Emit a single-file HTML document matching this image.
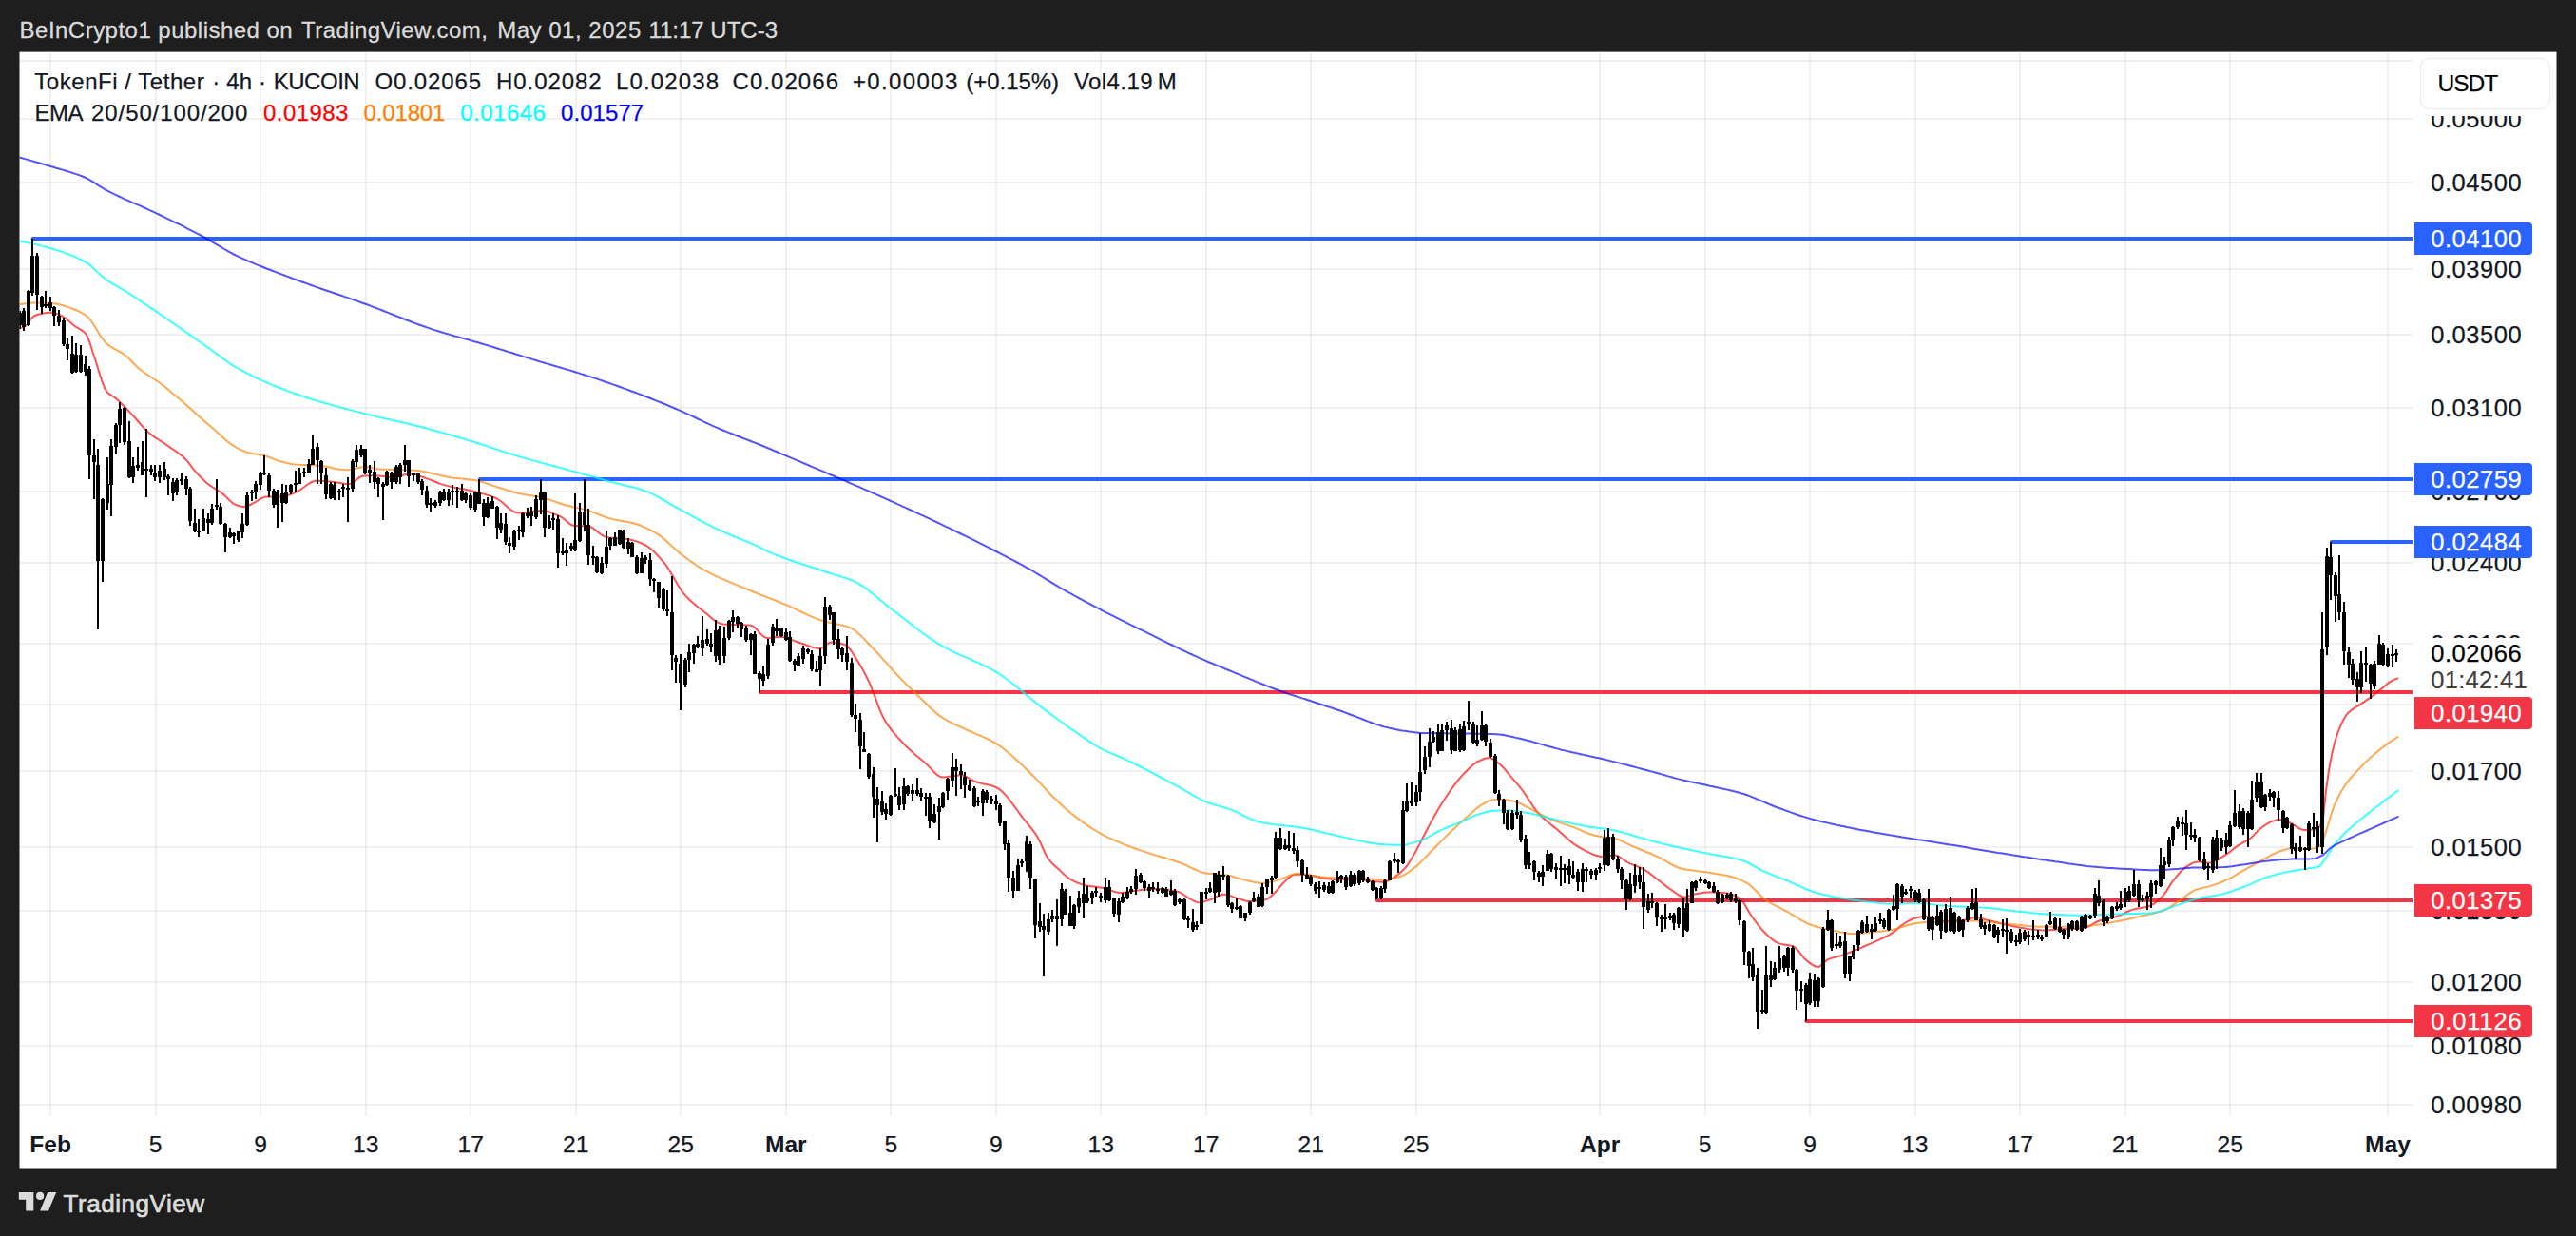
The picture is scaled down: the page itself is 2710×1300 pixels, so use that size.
<!DOCTYPE html>
<html lang="en"><head><meta charset="utf-8"><title>TokenFi / Tether 4h KUCOIN - TradingView</title>
<style>html,body{margin:0;padding:0;background:#1e1e1e;}body{width:2710px;height:1300px;overflow:hidden;}svg{display:block;}text{font-family:"Liberation Sans",sans-serif;}</style>
</head><body>
<svg width="2710" height="1300" viewBox="0 0 2710 1300">
<rect x="0" y="0" width="2710" height="1300" fill="#1e1e1e"/>
<rect id="chart-bg" x="20.5" y="54.6" width="2669" height="1174.9" fill="#ffffff"/>
<g id="grid" fill="rgba(42,46,57,0.065)" shape-rendering="crispEdges">
<rect x="52" y="55" width="2" height="1119"/>
<rect x="163" y="55" width="2" height="1119"/>
<rect x="273" y="55" width="2" height="1119"/>
<rect x="384" y="55" width="2" height="1119"/>
<rect x="494" y="55" width="2" height="1119"/>
<rect x="605" y="55" width="2" height="1119"/>
<rect x="715" y="55" width="2" height="1119"/>
<rect x="826" y="55" width="2" height="1119"/>
<rect x="936" y="55" width="2" height="1119"/>
<rect x="1047" y="55" width="2" height="1119"/>
<rect x="1157" y="55" width="2" height="1119"/>
<rect x="1268" y="55" width="2" height="1119"/>
<rect x="1378" y="55" width="2" height="1119"/>
<rect x="1489" y="55" width="2" height="1119"/>
<rect x="1682" y="55" width="2" height="1119"/>
<rect x="1793" y="55" width="2" height="1119"/>
<rect x="1903" y="55" width="2" height="1119"/>
<rect x="2014" y="55" width="2" height="1119"/>
<rect x="2124" y="55" width="2" height="1119"/>
<rect x="2235" y="55" width="2" height="1119"/>
<rect x="2345" y="55" width="2" height="1119"/>
<rect x="2511" y="55" width="2" height="1119"/>
<rect x="21" y="63" width="2517" height="2"/>
<rect x="21" y="124" width="2517" height="2"/>
<rect x="21" y="191" width="2517" height="2"/>
<rect x="21" y="282" width="2517" height="2"/>
<rect x="21" y="351" width="2517" height="2"/>
<rect x="21" y="428" width="2517" height="2"/>
<rect x="21" y="516" width="2517" height="2"/>
<rect x="21" y="591" width="2517" height="2"/>
<rect x="21" y="676" width="2517" height="2"/>
<rect x="21" y="740" width="2517" height="2"/>
<rect x="21" y="810" width="2517" height="2"/>
<rect x="21" y="890" width="2517" height="2"/>
<rect x="21" y="957" width="2517" height="2"/>
<rect x="21" y="1032" width="2517" height="2"/>
<rect x="21" y="1099" width="2517" height="2"/>
<rect x="21" y="1161" width="2517" height="2"/>
</g>
<g id="rays">
<rect x="34.1" y="249" width="2503.9" height="4" fill="#2962ff" shape-rendering="crispEdges"/><circle cx="34.6" cy="251" r="2" fill="#2962ff"/>
<rect x="504.5" y="502" width="2033.5" height="4" fill="#2962ff" shape-rendering="crispEdges"/><circle cx="505.0" cy="504" r="2" fill="#2962ff"/>
<rect x="2452.5" y="568" width="85.5" height="4" fill="#2962ff" shape-rendering="crispEdges"/><circle cx="2453.0" cy="570" r="2" fill="#2962ff"/>
<rect x="799.3" y="726" width="1738.7" height="4" fill="#f23645" shape-rendering="crispEdges"/><circle cx="799.8" cy="728" r="2" fill="#f23645"/>
<rect x="1448.3" y="945" width="1089.7" height="4" fill="#f23645" shape-rendering="crispEdges"/><circle cx="1448.8" cy="947" r="2" fill="#f23645"/>
<rect x="1899.8" y="1072" width="638.2" height="4" fill="#f23645" shape-rendering="crispEdges"/><circle cx="1900.3" cy="1074" r="2" fill="#f23645"/>
</g>
<clipPath id="pane"><rect x="20.5" y="54.6" width="2517.5" height="1119.4"/></clipPath>
<g id="ema" fill="none" stroke-width="2" stroke-linejoin="round" stroke-linecap="round" clip-path="url(#pane)">
<path d="M20.0,345.0 L23.0,344.5 L26.0,343.3 L29.0,341.0 L32.0,336.1 L35.0,332.8 L38.0,331.5 L41.0,330.5 L44.0,329.9 L47.0,329.3 L50.0,328.9 L53.0,328.6 L56.0,328.8 L59.0,329.6 L62.0,330.9 L65.0,332.4 L68.0,334.1 L71.0,336.4 L74.0,339.1 L77.0,341.7 L80.0,343.9 L83.0,345.6 L86.0,347.4 L89.0,349.7 L92.0,353.8 L95.0,362.0 L98.0,371.8 L101.0,380.8 L104.0,390.5 L107.0,400.1 L110.0,408.1 L113.0,412.7 L116.0,415.1 L119.0,417.0 L122.0,419.1 L125.0,421.8 L128.0,424.7 L131.0,427.7 L134.0,430.9 L137.0,434.1 L140.0,437.3 L143.0,440.5 L146.0,444.0 L149.0,447.5 L152.0,450.8 L155.0,453.8 L158.0,456.3 L161.0,458.6 L164.0,460.6 L167.0,462.5 L170.0,464.4 L173.0,466.4 L176.0,468.5 L179.0,470.6 L182.0,472.6 L185.0,474.6 L188.0,476.8 L191.0,479.1 L194.0,481.7 L197.0,484.9 L200.0,488.9 L203.0,492.9 L206.0,496.4 L209.0,499.7 L212.0,502.8 L215.0,505.7 L218.0,508.4 L221.0,510.7 L224.0,512.7 L227.0,514.6 L230.0,516.4 L233.0,518.5 L236.0,520.9 L239.0,523.8 L242.0,526.8 L245.0,529.3 L248.0,531.0 L251.0,532.0 L254.0,532.7 L257.0,533.0 L260.0,532.3 L263.0,531.0 L266.0,529.4 L269.0,527.9 L272.0,526.0 L275.0,524.1 L278.0,522.8 L281.0,522.6 L284.0,522.6 L287.0,522.6 L290.0,522.6 L293.0,522.6 L296.0,522.5 L299.0,522.0 L302.0,521.2 L305.0,520.2 L308.0,519.0 L311.0,517.8 L314.0,516.4 L317.0,514.5 L320.0,512.3 L323.0,510.0 L326.0,508.0 L329.0,506.5 L332.0,505.7 L335.0,505.6 L338.0,505.7 L341.0,506.0 L344.0,506.2 L347.0,506.5 L350.0,506.8 L353.0,507.2 L356.0,507.7 L359.0,508.3 L362.0,508.8 L365.0,509.1 L368.0,509.1 L371.0,507.8 L374.0,505.4 L377.0,502.9 L380.0,501.1 L383.0,500.6 L386.0,500.4 L389.0,500.3 L392.0,500.2 L395.0,500.2 L398.0,500.4 L401.0,500.7 L404.0,501.1 L407.0,501.5 L410.0,501.8 L413.0,502.0 L416.0,501.9 L419.0,501.4 L422.0,500.5 L425.0,499.5 L428.0,498.7 L431.0,498.3 L434.0,498.5 L437.0,499.1 L440.0,500.0 L443.0,501.2 L446.0,502.3 L449.0,503.4 L452.0,504.4 L455.0,505.6 L458.0,506.8 L461.0,508.0 L464.0,509.1 L467.0,510.1 L470.0,510.9 L473.0,511.6 L476.0,512.3 L479.0,512.9 L482.0,513.4 L485.0,514.0 L488.0,514.6 L491.0,515.2 L494.0,515.8 L497.0,516.5 L500.0,517.2 L503.0,518.0 L506.0,518.8 L509.0,519.6 L512.0,520.5 L515.0,521.4 L518.0,522.5 L521.0,523.6 L524.0,525.2 L527.0,527.3 L530.0,529.8 L533.0,532.5 L536.0,535.1 L539.0,537.3 L542.0,538.8 L545.0,539.6 L548.0,539.5 L551.0,539.3 L554.0,538.9 L557.0,538.5 L560.0,538.0 L563.0,537.6 L566.0,537.3 L569.0,537.1 L572.0,537.2 L575.0,537.7 L578.0,538.5 L581.0,539.6 L584.0,540.9 L587.0,542.2 L590.0,543.5 L593.0,545.6 L596.0,548.3 L599.0,550.8 L602.0,552.6 L605.0,553.1 L608.0,553.1 L611.0,553.2 L614.0,553.3 L617.0,553.3 L620.0,553.7 L623.0,555.0 L626.0,557.1 L629.0,559.6 L632.0,562.0 L635.0,563.9 L638.0,565.0 L641.0,565.5 L644.0,565.8 L647.0,566.1 L650.0,566.3 L653.0,566.5 L656.0,566.7 L659.0,567.1 L662.0,567.5 L665.0,568.1 L668.0,568.9 L671.0,569.9 L674.0,571.1 L677.0,572.5 L680.0,574.0 L683.0,576.0 L686.0,578.4 L689.0,581.3 L692.0,584.4 L695.0,587.7 L698.0,591.1 L701.0,594.9 L704.0,599.5 L707.0,604.5 L710.0,609.8 L713.0,615.0 L716.0,619.8 L719.0,624.0 L722.0,627.4 L725.0,630.5 L728.0,633.2 L731.0,635.8 L734.0,638.3 L737.0,640.6 L740.0,642.9 L743.0,645.3 L746.0,647.8 L749.0,650.4 L752.0,652.7 L755.0,654.6 L758.0,655.9 L761.0,656.5 L764.0,656.7 L767.0,656.9 L770.0,657.0 L773.0,657.0 L776.0,657.1 L779.0,657.2 L782.0,657.3 L785.0,657.4 L788.0,657.6 L791.0,658.0 L794.0,659.9 L797.0,663.0 L800.0,666.5 L803.0,669.4 L806.0,670.9 L809.0,670.9 L812.0,670.7 L815.0,670.3 L818.0,670.0 L821.0,669.8 L824.0,670.0 L827.0,670.7 L830.0,671.7 L833.0,672.9 L836.0,674.2 L839.0,675.3 L842.0,676.3 L845.0,677.3 L848.0,678.4 L851.0,679.5 L854.0,680.5 L857.0,681.3 L860.0,681.8 L863.0,682.0 L866.0,680.7 L869.0,678.5 L872.0,676.3 L875.0,675.4 L878.0,675.6 L881.0,676.0 L884.0,676.7 L887.0,677.5 L890.0,678.6 L893.0,681.2 L896.0,685.3 L899.0,690.1 L902.0,694.9 L905.0,699.7 L908.0,705.0 L911.0,710.7 L914.0,716.7 L917.0,723.8 L920.0,731.7 L923.0,739.8 L926.0,747.6 L929.0,754.3 L932.0,759.5 L935.0,763.9 L938.0,768.0 L941.0,771.7 L944.0,775.1 L947.0,778.3 L950.0,781.5 L953.0,784.6 L956.0,787.5 L959.0,790.2 L962.0,792.9 L965.0,795.4 L968.0,798.0 L971.0,800.5 L974.0,803.0 L977.0,805.9 L980.0,809.2 L983.0,812.4 L986.0,815.1 L989.0,816.9 L992.0,817.4 L995.0,817.2 L998.0,816.8 L1001.0,816.4 L1004.0,816.0 L1007.0,815.6 L1010.0,815.4 L1013.0,815.7 L1016.0,816.7 L1019.0,818.3 L1022.0,820.0 L1025.0,821.6 L1028.0,822.8 L1031.0,823.6 L1034.0,824.3 L1037.0,824.9 L1040.0,825.5 L1043.0,826.3 L1046.0,827.2 L1049.0,828.6 L1052.0,830.6 L1055.0,833.2 L1058.0,836.4 L1061.0,839.9 L1064.0,843.8 L1067.0,847.9 L1070.0,852.0 L1073.0,856.1 L1076.0,860.2 L1079.0,863.9 L1082.0,867.5 L1085.0,871.2 L1088.0,875.1 L1091.0,879.5 L1094.0,885.2 L1097.0,891.9 L1100.0,898.5 L1103.0,903.7 L1106.0,907.2 L1109.0,910.1 L1112.0,912.8 L1115.0,915.5 L1118.0,918.4 L1121.0,921.0 L1124.0,923.4 L1127.0,925.4 L1130.0,926.9 L1133.0,928.3 L1136.0,929.4 L1139.0,930.4 L1142.0,931.2 L1145.0,931.8 L1148.0,932.2 L1151.0,932.6 L1154.0,933.0 L1157.0,933.4 L1160.0,933.8 L1163.0,934.5 L1166.0,935.5 L1169.0,936.6 L1172.0,937.8 L1175.0,938.6 L1178.0,939.0 L1181.0,938.9 L1184.0,938.5 L1187.0,938.0 L1190.0,937.4 L1193.0,936.9 L1196.0,936.5 L1199.0,936.2 L1202.0,935.8 L1205.0,935.5 L1208.0,935.2 L1211.0,935.0 L1214.0,934.9 L1217.0,934.9 L1220.0,935.1 L1223.0,935.3 L1226.0,935.6 L1229.0,936.0 L1232.0,936.5 L1235.0,937.0 L1238.0,937.6 L1241.0,938.5 L1244.0,940.2 L1247.0,942.3 L1250.0,944.3 L1253.0,946.0 L1256.0,947.7 L1259.0,948.9 L1262.0,949.2 L1265.0,948.7 L1268.0,947.9 L1271.0,946.9 L1274.0,946.0 L1277.0,944.7 L1280.0,943.1 L1283.0,941.7 L1286.0,940.8 L1289.0,940.8 L1292.0,941.4 L1295.0,942.4 L1298.0,943.6 L1301.0,944.7 L1304.0,945.6 L1307.0,946.5 L1310.0,947.4 L1313.0,947.9 L1316.0,948.0 L1319.0,947.9 L1322.0,947.6 L1325.0,947.3 L1328.0,946.9 L1331.0,946.4 L1334.0,945.1 L1337.0,942.8 L1340.0,939.9 L1343.0,937.0 L1346.0,933.3 L1349.0,929.8 L1352.0,926.9 L1355.0,924.1 L1358.0,921.5 L1361.0,919.9 L1364.0,919.6 L1367.0,919.7 L1370.0,919.9 L1373.0,920.1 L1376.0,920.4 L1379.0,920.7 L1382.0,921.2 L1385.0,922.0 L1388.0,922.9 L1391.0,923.6 L1394.0,924.0 L1397.0,924.3 L1400.0,924.6 L1403.0,924.9 L1406.0,925.0 L1409.0,925.1 L1412.0,925.0 L1415.0,924.9 L1418.0,924.7 L1421.0,924.6 L1424.0,924.5 L1427.0,924.6 L1430.0,924.9 L1433.0,925.3 L1436.0,925.8 L1439.0,926.3 L1442.0,926.7 L1445.0,927.0 L1448.0,927.3 L1451.0,927.5 L1454.0,927.7 L1457.0,927.6 L1460.0,926.5 L1463.0,924.8 L1466.0,923.0 L1469.0,921.1 L1472.0,918.9 L1475.0,916.3 L1478.0,913.3 L1481.0,909.4 L1484.0,904.7 L1487.0,899.7 L1490.0,894.4 L1493.0,888.6 L1496.0,882.7 L1499.0,877.0 L1502.0,871.2 L1505.0,865.4 L1508.0,859.9 L1511.0,854.7 L1514.0,849.7 L1517.0,844.8 L1520.0,840.2 L1523.0,835.7 L1526.0,831.4 L1529.0,827.2 L1532.0,823.2 L1535.0,819.4 L1538.0,815.9 L1541.0,812.7 L1544.0,809.7 L1547.0,806.8 L1550.0,804.1 L1553.0,802.0 L1556.0,800.4 L1559.0,799.0 L1562.0,797.8 L1565.0,797.2 L1568.0,797.3 L1571.0,798.7 L1574.0,800.8 L1577.0,803.1 L1580.0,805.7 L1583.0,808.9 L1586.0,812.6 L1589.0,816.2 L1592.0,819.6 L1595.0,823.1 L1598.0,826.7 L1601.0,830.5 L1604.0,834.5 L1607.0,839.1 L1610.0,843.7 L1613.0,848.3 L1616.0,852.4 L1619.0,855.9 L1622.0,859.0 L1625.0,861.7 L1628.0,864.3 L1631.0,866.7 L1634.0,869.1 L1637.0,871.6 L1640.0,874.1 L1643.0,876.7 L1646.0,879.4 L1649.0,882.1 L1652.0,884.7 L1655.0,887.1 L1658.0,889.2 L1661.0,891.1 L1664.0,892.7 L1667.0,894.3 L1670.0,895.9 L1673.0,897.4 L1676.0,898.7 L1679.0,899.8 L1682.0,900.5 L1685.0,901.0 L1688.0,900.9 L1691.0,900.5 L1694.0,900.0 L1697.0,899.6 L1700.0,899.7 L1703.0,900.9 L1706.0,902.8 L1709.0,905.0 L1712.0,906.9 L1715.0,908.4 L1718.0,909.6 L1721.0,910.7 L1724.0,911.9 L1727.0,913.2 L1730.0,914.9 L1733.0,916.9 L1736.0,919.0 L1739.0,921.3 L1742.0,923.7 L1745.0,925.9 L1748.0,928.2 L1751.0,930.6 L1754.0,933.0 L1757.0,935.2 L1760.0,937.2 L1763.0,939.4 L1766.0,941.5 L1769.0,943.0 L1772.0,943.4 L1775.0,942.9 L1778.0,942.0 L1781.0,940.9 L1784.0,940.2 L1787.0,939.7 L1790.0,939.2 L1793.0,938.8 L1796.0,938.5 L1799.0,938.4 L1802.0,938.4 L1805.0,938.6 L1808.0,938.7 L1811.0,938.9 L1814.0,939.2 L1817.0,939.6 L1820.0,940.2 L1823.0,941.2 L1826.0,942.5 L1829.0,944.2 L1832.0,946.4 L1835.0,950.5 L1838.0,955.7 L1841.0,961.0 L1844.0,965.3 L1847.0,969.4 L1850.0,973.3 L1853.0,977.1 L1856.0,980.3 L1859.0,983.2 L1862.0,985.9 L1865.0,988.5 L1868.0,990.6 L1871.0,992.1 L1874.0,992.9 L1877.0,993.4 L1880.0,993.9 L1883.0,994.4 L1886.0,995.1 L1889.0,997.0 L1892.0,1000.2 L1895.0,1004.1 L1898.0,1007.9 L1901.0,1010.6 L1904.0,1012.9 L1907.0,1015.0 L1910.0,1016.5 L1913.0,1017.1 L1916.0,1015.5 L1919.0,1012.4 L1922.0,1009.6 L1925.0,1008.4 L1928.0,1007.4 L1931.0,1006.7 L1934.0,1005.9 L1937.0,1005.1 L1940.0,1004.0 L1943.0,1002.9 L1946.0,1001.7 L1949.0,1000.5 L1952.0,999.3 L1955.0,998.1 L1958.0,996.8 L1961.0,995.5 L1964.0,994.2 L1967.0,992.9 L1970.0,991.6 L1973.0,990.2 L1976.0,988.8 L1979.0,987.4 L1982.0,986.0 L1985.0,984.6 L1988.0,982.9 L1991.0,981.1 L1994.0,978.9 L1997.0,976.2 L2000.0,973.6 L2003.0,971.5 L2006.0,969.7 L2009.0,968.0 L2012.0,966.5 L2015.0,965.6 L2018.0,964.9 L2021.0,964.3 L2024.0,963.9 L2027.0,963.7 L2030.0,964.2 L2033.0,965.5 L2036.0,966.9 L2039.0,968.1 L2042.0,968.5 L2045.0,968.5 L2048.0,968.5 L2051.0,968.4 L2054.0,968.4 L2057.0,968.3 L2060.0,968.2 L2063.0,968.1 L2066.0,967.8 L2069.0,967.0 L2072.0,966.2 L2075.0,965.4 L2078.0,965.1 L2081.0,965.4 L2084.0,966.0 L2087.0,966.8 L2090.0,967.6 L2093.0,968.3 L2096.0,969.0 L2099.0,969.8 L2102.0,970.5 L2105.0,971.3 L2108.0,972.0 L2111.0,972.7 L2114.0,973.3 L2117.0,974.0 L2120.0,974.6 L2123.0,975.2 L2126.0,975.8 L2129.0,976.3 L2132.0,976.8 L2135.0,977.2 L2138.0,977.5 L2141.0,977.8 L2144.0,978.1 L2147.0,978.3 L2150.0,978.4 L2153.0,978.3 L2156.0,978.2 L2159.0,977.9 L2162.0,977.7 L2165.0,977.5 L2168.0,977.2 L2171.0,977.1 L2174.0,977.0 L2177.0,976.9 L2180.0,976.8 L2183.0,976.6 L2186.0,976.5 L2189.0,976.3 L2192.0,976.1 L2195.0,975.6 L2198.0,974.2 L2201.0,972.4 L2204.0,970.5 L2207.0,969.0 L2210.0,968.0 L2213.0,967.2 L2216.0,966.5 L2219.0,965.9 L2222.0,965.3 L2225.0,964.5 L2228.0,963.6 L2231.0,962.4 L2234.0,961.0 L2237.0,959.5 L2240.0,958.1 L2243.0,956.9 L2246.0,956.1 L2249.0,955.5 L2252.0,955.0 L2255.0,954.5 L2258.0,953.9 L2261.0,953.0 L2264.0,951.7 L2267.0,949.8 L2270.0,947.4 L2273.0,944.6 L2276.0,941.6 L2279.0,937.4 L2282.0,932.5 L2285.0,927.9 L2288.0,924.1 L2291.0,920.3 L2294.0,916.8 L2297.0,913.9 L2300.0,911.6 L2303.0,909.8 L2306.0,908.1 L2309.0,906.9 L2312.0,906.4 L2315.0,906.6 L2318.0,907.0 L2321.0,907.4 L2324.0,907.6 L2327.0,907.2 L2330.0,906.0 L2333.0,904.3 L2336.0,902.4 L2339.0,900.6 L2342.0,898.7 L2345.0,896.6 L2348.0,894.2 L2351.0,891.9 L2354.0,889.7 L2357.0,887.8 L2360.0,886.1 L2363.0,884.5 L2366.0,882.7 L2369.0,880.5 L2372.0,877.4 L2375.0,874.1 L2378.0,871.4 L2381.0,869.2 L2384.0,867.1 L2387.0,865.3 L2390.0,863.9 L2393.0,863.0 L2396.0,862.3 L2399.0,861.9 L2402.0,862.3 L2405.0,863.4 L2408.0,865.0 L2411.0,866.5 L2414.0,868.1 L2417.0,870.1 L2420.0,871.9 L2423.0,872.9 L2426.0,872.9 L2429.0,872.7 L2432.0,872.5 L2435.0,872.2 L2438.0,871.2 L2441.0,868.0 L2444.0,860.4 L2447.0,831.5 L2450.0,810.4 L2453.0,793.9 L2456.0,781.3 L2459.0,771.7 L2462.0,764.0 L2465.0,757.8 L2468.0,752.7 L2471.0,749.2 L2474.0,746.7 L2477.0,744.7 L2480.0,742.8 L2483.0,740.8 L2486.0,738.8 L2489.0,736.9 L2492.0,734.9 L2495.0,732.8 L2498.0,730.4 L2501.0,728.0 L2504.0,725.6 L2507.0,723.1 L2510.0,720.5 L2513.0,718.1 L2516.0,716.2 L2519.0,714.7 L2522.0,713.6 L2522.4,713.5" stroke="#ff0000" stroke-opacity="0.68"/>
<path d="M20.0,320.3 L23.0,319.8 L26.0,319.4 L29.0,319.0 L32.0,318.7 L35.0,318.5 L38.0,318.4 L41.0,318.4 L44.0,318.5 L47.0,318.6 L50.0,318.8 L53.0,319.0 L56.0,319.3 L59.0,319.6 L62.0,320.1 L65.0,320.9 L68.0,321.8 L71.0,322.9 L74.0,323.9 L77.0,325.0 L80.0,326.2 L83.0,327.5 L86.0,329.0 L89.0,330.8 L92.0,333.0 L95.0,336.4 L98.0,340.7 L101.0,345.6 L104.0,350.5 L107.0,355.2 L110.0,359.2 L113.0,362.1 L116.0,364.3 L119.0,366.1 L122.0,367.8 L125.0,369.4 L128.0,371.2 L131.0,373.2 L134.0,375.6 L137.0,378.5 L140.0,381.7 L143.0,384.7 L146.0,387.4 L149.0,389.8 L152.0,392.0 L155.0,394.1 L158.0,396.0 L161.0,398.0 L164.0,400.0 L167.0,402.0 L170.0,404.2 L173.0,406.5 L176.0,408.9 L179.0,411.4 L182.0,413.9 L185.0,416.4 L188.0,419.0 L191.0,421.6 L194.0,424.3 L197.0,427.0 L200.0,429.6 L203.0,432.3 L206.0,435.0 L209.0,437.7 L212.0,440.3 L215.0,442.9 L218.0,445.5 L221.0,448.1 L224.0,450.6 L227.0,453.3 L230.0,456.1 L233.0,458.8 L236.0,461.5 L239.0,464.0 L242.0,466.4 L245.0,468.5 L248.0,470.3 L251.0,471.9 L254.0,473.3 L257.0,474.6 L260.0,475.7 L263.0,476.6 L266.0,477.2 L269.0,477.6 L272.0,478.0 L275.0,478.4 L278.0,479.1 L281.0,480.0 L284.0,481.1 L287.0,482.4 L290.0,483.6 L293.0,484.6 L296.0,485.5 L299.0,486.3 L302.0,487.0 L305.0,487.7 L308.0,488.2 L311.0,488.6 L314.0,488.8 L317.0,489.0 L320.0,489.1 L323.0,489.2 L326.0,489.3 L329.0,489.4 L332.0,489.6 L335.0,489.8 L338.0,490.0 L341.0,490.5 L344.0,491.0 L347.0,491.6 L350.0,492.2 L353.0,492.9 L356.0,493.4 L359.0,493.8 L362.0,494.1 L365.0,494.2 L368.0,494.0 L371.0,493.4 L374.0,492.7 L377.0,492.0 L380.0,491.4 L383.0,491.0 L386.0,491.1 L389.0,491.6 L392.0,492.2 L395.0,492.9 L398.0,493.4 L401.0,493.5 L404.0,493.7 L407.0,493.8 L410.0,493.9 L413.0,494.0 L416.0,494.0 L419.0,494.1 L422.0,494.2 L425.0,494.2 L428.0,494.3 L431.0,494.4 L434.0,494.6 L437.0,494.7 L440.0,495.0 L443.0,495.4 L446.0,496.0 L449.0,496.6 L452.0,497.2 L455.0,498.0 L458.0,498.7 L461.0,499.4 L464.0,500.2 L467.0,500.8 L470.0,501.4 L473.0,501.9 L476.0,502.4 L479.0,502.7 L482.0,503.1 L485.0,503.4 L488.0,503.7 L491.0,504.0 L494.0,504.4 L497.0,504.8 L500.0,505.2 L503.0,505.8 L506.0,506.5 L509.0,507.4 L512.0,508.5 L515.0,509.5 L518.0,510.6 L521.0,511.6 L524.0,512.5 L527.0,513.5 L530.0,514.4 L533.0,515.4 L536.0,516.3 L539.0,517.2 L542.0,518.0 L545.0,518.8 L548.0,519.4 L551.0,520.0 L554.0,520.5 L557.0,521.0 L560.0,521.4 L563.0,521.9 L566.0,522.5 L569.0,523.1 L572.0,523.8 L575.0,524.6 L578.0,525.6 L581.0,526.6 L584.0,527.7 L587.0,528.7 L590.0,529.7 L593.0,530.7 L596.0,531.5 L599.0,532.3 L602.0,533.0 L605.0,533.7 L608.0,534.4 L611.0,535.1 L614.0,535.8 L617.0,536.6 L620.0,537.5 L623.0,538.5 L626.0,539.6 L629.0,540.8 L632.0,542.0 L635.0,543.1 L638.0,544.2 L641.0,545.1 L644.0,545.9 L647.0,546.6 L650.0,547.2 L653.0,547.7 L656.0,548.2 L659.0,548.7 L662.0,549.3 L665.0,550.0 L668.0,550.8 L671.0,551.7 L674.0,552.8 L677.0,554.1 L680.0,555.4 L683.0,556.9 L686.0,558.4 L689.0,560.1 L692.0,561.8 L695.0,563.9 L698.0,566.3 L701.0,568.9 L704.0,571.7 L707.0,574.6 L710.0,577.3 L713.0,580.0 L716.0,582.4 L719.0,584.7 L722.0,587.0 L725.0,589.2 L728.0,591.4 L731.0,593.5 L734.0,595.5 L737.0,597.4 L740.0,599.1 L743.0,600.7 L746.0,602.3 L749.0,603.8 L752.0,605.3 L755.0,606.7 L758.0,608.1 L761.0,609.4 L764.0,610.7 L767.0,611.9 L770.0,613.2 L773.0,614.4 L776.0,615.6 L779.0,616.9 L782.0,618.1 L785.0,619.3 L788.0,620.5 L791.0,621.8 L794.0,623.0 L797.0,624.2 L800.0,625.4 L803.0,626.6 L806.0,627.8 L809.0,628.9 L812.0,630.1 L815.0,631.3 L818.0,632.5 L821.0,633.7 L824.0,634.9 L827.0,636.1 L830.0,637.4 L833.0,638.8 L836.0,640.2 L839.0,641.6 L842.0,643.1 L845.0,644.5 L848.0,645.9 L851.0,647.3 L854.0,648.6 L857.0,649.9 L860.0,651.1 L863.0,652.1 L866.0,653.1 L869.0,653.9 L872.0,654.6 L875.0,655.2 L878.0,655.8 L881.0,656.4 L884.0,657.1 L887.0,657.8 L890.0,658.6 L893.0,659.6 L896.0,660.9 L899.0,662.8 L902.0,665.2 L905.0,667.9 L908.0,670.9 L911.0,674.1 L914.0,677.3 L917.0,680.5 L920.0,683.5 L923.0,686.7 L926.0,689.9 L929.0,693.3 L932.0,696.7 L935.0,700.1 L938.0,703.5 L941.0,706.8 L944.0,710.0 L947.0,713.1 L950.0,716.1 L953.0,719.2 L956.0,722.2 L959.0,725.2 L962.0,728.1 L965.0,731.0 L968.0,733.9 L971.0,736.8 L974.0,739.7 L977.0,742.7 L980.0,745.6 L983.0,748.3 L986.0,750.9 L989.0,753.2 L992.0,755.2 L995.0,757.0 L998.0,758.7 L1001.0,760.2 L1004.0,761.6 L1007.0,763.0 L1010.0,764.3 L1013.0,765.7 L1016.0,767.1 L1019.0,768.5 L1022.0,769.8 L1025.0,771.1 L1028.0,772.4 L1031.0,773.6 L1034.0,774.9 L1037.0,776.3 L1040.0,777.7 L1043.0,779.2 L1046.0,780.9 L1049.0,782.7 L1052.0,784.7 L1055.0,786.9 L1058.0,789.2 L1061.0,791.7 L1064.0,794.3 L1067.0,796.9 L1070.0,799.7 L1073.0,802.5 L1076.0,805.4 L1079.0,808.3 L1082.0,811.3 L1085.0,814.2 L1088.0,817.1 L1091.0,820.1 L1094.0,823.3 L1097.0,826.6 L1100.0,829.9 L1103.0,833.2 L1106.0,836.3 L1109.0,839.3 L1112.0,842.1 L1115.0,845.0 L1118.0,847.7 L1121.0,850.4 L1124.0,853.0 L1127.0,855.5 L1130.0,857.9 L1133.0,860.2 L1136.0,862.4 L1139.0,864.6 L1142.0,866.8 L1145.0,868.8 L1148.0,870.8 L1151.0,872.7 L1154.0,874.5 L1157.0,876.2 L1160.0,877.8 L1163.0,879.3 L1166.0,880.8 L1169.0,882.2 L1172.0,883.5 L1175.0,884.8 L1178.0,886.1 L1181.0,887.4 L1184.0,888.6 L1187.0,889.7 L1190.0,890.9 L1193.0,892.0 L1196.0,893.0 L1199.0,894.1 L1202.0,895.1 L1205.0,896.1 L1208.0,897.1 L1211.0,898.1 L1214.0,899.0 L1217.0,899.9 L1220.0,900.8 L1223.0,901.7 L1226.0,902.5 L1229.0,903.4 L1232.0,904.3 L1235.0,905.2 L1238.0,906.2 L1241.0,907.2 L1244.0,908.4 L1247.0,909.7 L1250.0,911.1 L1253.0,912.6 L1256.0,914.0 L1259.0,915.4 L1262.0,916.6 L1265.0,917.6 L1268.0,918.3 L1271.0,918.7 L1274.0,919.0 L1277.0,919.3 L1280.0,919.5 L1283.0,919.8 L1286.0,920.0 L1289.0,920.3 L1292.0,920.7 L1295.0,921.3 L1298.0,922.2 L1301.0,923.2 L1304.0,924.1 L1307.0,924.9 L1310.0,925.6 L1313.0,926.3 L1316.0,927.0 L1319.0,927.7 L1322.0,928.2 L1325.0,928.6 L1328.0,928.8 L1331.0,928.7 L1334.0,928.3 L1337.0,927.6 L1340.0,926.7 L1343.0,925.9 L1346.0,925.0 L1349.0,924.1 L1352.0,922.9 L1355.0,921.7 L1358.0,920.5 L1361.0,919.6 L1364.0,919.1 L1367.0,919.1 L1370.0,919.4 L1373.0,919.8 L1376.0,920.3 L1379.0,920.8 L1382.0,921.3 L1385.0,921.8 L1388.0,922.1 L1391.0,922.4 L1394.0,922.6 L1397.0,922.9 L1400.0,923.1 L1403.0,923.2 L1406.0,923.2 L1409.0,923.2 L1412.0,923.2 L1415.0,923.2 L1418.0,923.3 L1421.0,923.3 L1424.0,923.3 L1427.0,923.3 L1430.0,923.3 L1433.0,923.5 L1436.0,923.7 L1439.0,924.0 L1442.0,924.4 L1445.0,924.7 L1448.0,925.0 L1451.0,925.1 L1454.0,925.2 L1457.0,925.1 L1460.0,924.8 L1463.0,924.3 L1466.0,923.7 L1469.0,923.0 L1472.0,922.3 L1475.0,921.4 L1478.0,919.9 L1481.0,918.0 L1484.0,915.8 L1487.0,913.4 L1490.0,911.0 L1493.0,908.5 L1496.0,905.5 L1499.0,902.4 L1502.0,899.2 L1505.0,896.0 L1508.0,893.0 L1511.0,890.0 L1514.0,886.9 L1517.0,883.9 L1520.0,880.9 L1523.0,877.9 L1526.0,875.0 L1529.0,872.2 L1532.0,869.4 L1535.0,866.6 L1538.0,863.9 L1541.0,861.3 L1544.0,858.7 L1547.0,856.1 L1550.0,853.5 L1553.0,850.8 L1556.0,848.4 L1559.0,846.3 L1562.0,844.6 L1565.0,842.9 L1568.0,841.7 L1571.0,841.2 L1574.0,841.0 L1577.0,840.8 L1580.0,840.8 L1583.0,841.0 L1586.0,841.4 L1589.0,842.0 L1592.0,842.7 L1595.0,843.4 L1598.0,844.5 L1601.0,845.9 L1604.0,847.5 L1607.0,849.1 L1610.0,850.7 L1613.0,852.2 L1616.0,853.9 L1619.0,855.5 L1622.0,857.2 L1625.0,858.8 L1628.0,860.2 L1631.0,861.6 L1634.0,862.8 L1637.0,863.9 L1640.0,864.9 L1643.0,865.9 L1646.0,866.9 L1649.0,867.9 L1652.0,868.9 L1655.0,869.9 L1658.0,871.1 L1661.0,872.4 L1664.0,873.7 L1667.0,875.0 L1670.0,876.2 L1673.0,877.3 L1676.0,878.3 L1679.0,879.1 L1682.0,879.6 L1685.0,880.1 L1688.0,880.4 L1691.0,880.8 L1694.0,881.2 L1697.0,881.7 L1700.0,882.4 L1703.0,883.3 L1706.0,884.5 L1709.0,885.9 L1712.0,887.3 L1715.0,888.8 L1718.0,890.2 L1721.0,891.6 L1724.0,892.8 L1727.0,894.0 L1730.0,895.3 L1733.0,896.5 L1736.0,897.7 L1739.0,899.0 L1742.0,900.3 L1745.0,901.6 L1748.0,903.1 L1751.0,904.8 L1754.0,906.6 L1757.0,908.4 L1760.0,910.0 L1763.0,911.5 L1766.0,912.7 L1769.0,913.6 L1772.0,914.2 L1775.0,914.8 L1778.0,915.2 L1781.0,915.6 L1784.0,916.0 L1787.0,916.3 L1790.0,916.7 L1793.0,917.1 L1796.0,917.5 L1799.0,918.0 L1802.0,918.5 L1805.0,918.9 L1808.0,919.4 L1811.0,919.9 L1814.0,920.4 L1817.0,921.0 L1820.0,921.7 L1823.0,922.5 L1826.0,923.5 L1829.0,924.6 L1832.0,925.9 L1835.0,927.3 L1838.0,928.9 L1841.0,931.0 L1844.0,933.7 L1847.0,936.7 L1850.0,939.8 L1853.0,942.8 L1856.0,945.4 L1859.0,947.5 L1862.0,949.3 L1865.0,951.1 L1868.0,952.7 L1871.0,954.2 L1874.0,955.7 L1877.0,957.3 L1880.0,958.8 L1883.0,960.5 L1886.0,962.3 L1889.0,964.1 L1892.0,966.0 L1895.0,967.8 L1898.0,969.5 L1901.0,971.0 L1904.0,972.3 L1907.0,973.4 L1910.0,974.3 L1913.0,975.2 L1916.0,976.0 L1919.0,976.7 L1922.0,977.4 L1925.0,978.0 L1928.0,978.6 L1931.0,979.2 L1934.0,979.9 L1937.0,980.5 L1940.0,981.1 L1943.0,981.6 L1946.0,982.0 L1949.0,982.1 L1952.0,982.0 L1955.0,981.9 L1958.0,981.6 L1961.0,981.3 L1964.0,980.9 L1967.0,980.6 L1970.0,980.3 L1973.0,980.0 L1976.0,979.7 L1979.0,979.4 L1982.0,979.0 L1985.0,978.7 L1988.0,978.2 L1991.0,977.7 L1994.0,977.1 L1997.0,976.2 L2000.0,975.2 L2003.0,974.2 L2006.0,973.3 L2009.0,972.4 L2012.0,971.8 L2015.0,971.3 L2018.0,970.8 L2021.0,970.4 L2024.0,970.1 L2027.0,970.0 L2030.0,970.0 L2033.0,970.0 L2036.0,970.0 L2039.0,970.0 L2042.0,970.0 L2045.0,970.0 L2048.0,970.0 L2051.0,970.0 L2054.0,969.9 L2057.0,969.8 L2060.0,969.6 L2063.0,969.3 L2066.0,969.0 L2069.0,968.8 L2072.0,968.6 L2075.0,968.5 L2078.0,968.5 L2081.0,968.7 L2084.0,968.9 L2087.0,969.2 L2090.0,969.5 L2093.0,969.8 L2096.0,970.1 L2099.0,970.4 L2102.0,970.7 L2105.0,971.0 L2108.0,971.3 L2111.0,971.6 L2114.0,971.9 L2117.0,972.2 L2120.0,972.5 L2123.0,972.8 L2126.0,973.1 L2129.0,973.4 L2132.0,973.7 L2135.0,974.0 L2138.0,974.2 L2141.0,974.5 L2144.0,974.7 L2147.0,974.8 L2150.0,974.8 L2153.0,974.8 L2156.0,974.8 L2159.0,974.8 L2162.0,974.8 L2165.0,974.8 L2168.0,974.8 L2171.0,974.8 L2174.0,974.8 L2177.0,974.8 L2180.0,974.7 L2183.0,974.6 L2186.0,974.4 L2189.0,974.2 L2192.0,974.0 L2195.0,973.8 L2198.0,973.6 L2201.0,973.3 L2204.0,973.0 L2207.0,972.6 L2210.0,972.2 L2213.0,971.7 L2216.0,971.2 L2219.0,970.7 L2222.0,970.1 L2225.0,969.6 L2228.0,969.0 L2231.0,968.5 L2234.0,967.8 L2237.0,967.2 L2240.0,966.5 L2243.0,965.8 L2246.0,965.1 L2249.0,964.4 L2252.0,963.7 L2255.0,963.0 L2258.0,962.3 L2261.0,961.6 L2264.0,961.0 L2267.0,960.3 L2270.0,959.5 L2273.0,958.7 L2276.0,957.7 L2279.0,956.3 L2282.0,954.6 L2285.0,952.6 L2288.0,950.6 L2291.0,948.4 L2294.0,946.4 L2297.0,944.3 L2300.0,942.1 L2303.0,939.8 L2306.0,937.8 L2309.0,936.2 L2312.0,935.2 L2315.0,934.4 L2318.0,933.8 L2321.0,933.1 L2324.0,932.4 L2327.0,931.4 L2330.0,930.4 L2333.0,929.4 L2336.0,928.2 L2339.0,927.0 L2342.0,925.7 L2345.0,924.3 L2348.0,922.8 L2351.0,921.0 L2354.0,919.2 L2357.0,917.4 L2360.0,915.6 L2363.0,914.0 L2366.0,912.3 L2369.0,910.6 L2372.0,909.0 L2375.0,907.3 L2378.0,905.7 L2381.0,904.1 L2384.0,902.5 L2387.0,900.9 L2390.0,899.2 L2393.0,897.6 L2396.0,896.3 L2399.0,895.2 L2402.0,894.2 L2405.0,893.3 L2408.0,892.6 L2411.0,892.3 L2414.0,892.3 L2417.0,892.5 L2420.0,892.6 L2423.0,892.8 L2426.0,893.0 L2429.0,893.0 L2432.0,892.8 L2435.0,892.1 L2438.0,891.1 L2441.0,889.7 L2444.0,883.1 L2447.0,874.6 L2450.0,864.7 L2453.0,854.7 L2456.0,846.7 L2459.0,840.2 L2462.0,834.3 L2465.0,829.2 L2468.0,824.6 L2471.0,820.6 L2474.0,817.0 L2477.0,813.7 L2480.0,810.6 L2483.0,807.5 L2486.0,804.4 L2489.0,801.4 L2492.0,798.6 L2495.0,795.8 L2498.0,793.2 L2501.0,790.6 L2504.0,788.2 L2507.0,785.9 L2510.0,783.6 L2513.0,781.4 L2516.0,779.3 L2519.0,777.3 L2522.0,775.4 L2522.7,775.0" stroke="#ff8000" stroke-opacity="0.68"/>
<path d="M20.0,253.6 L23.0,254.1 L26.0,254.6 L29.0,255.2 L32.0,255.8 L35.0,256.4 L38.0,257.1 L41.0,257.9 L44.0,258.6 L47.0,259.4 L50.0,260.3 L53.0,261.1 L56.0,262.0 L59.0,262.9 L62.0,263.8 L65.0,264.8 L68.0,265.9 L71.0,267.0 L74.0,268.1 L77.0,269.4 L80.0,270.7 L83.0,272.1 L86.0,273.5 L89.0,275.1 L92.0,276.9 L95.0,279.1 L98.0,281.7 L101.0,284.5 L104.0,287.4 L107.0,290.2 L110.0,292.7 L113.0,294.8 L116.0,296.8 L119.0,298.6 L122.0,300.4 L125.0,302.1 L128.0,303.9 L131.0,305.6 L134.0,307.5 L137.0,309.4 L140.0,311.4 L143.0,313.3 L146.0,315.3 L149.0,317.3 L152.0,319.3 L155.0,321.3 L158.0,323.4 L161.0,325.4 L164.0,327.4 L167.0,329.5 L170.0,331.5 L173.0,333.6 L176.0,335.7 L179.0,337.7 L182.0,339.8 L185.0,341.9 L188.0,344.0 L191.0,346.1 L194.0,348.2 L197.0,350.3 L200.0,352.4 L203.0,354.5 L206.0,356.6 L209.0,358.7 L212.0,360.8 L215.0,362.9 L218.0,365.0 L221.0,367.1 L224.0,369.3 L227.0,371.5 L230.0,373.7 L233.0,375.9 L236.0,378.1 L239.0,380.2 L242.0,382.3 L245.0,384.3 L248.0,386.1 L251.0,387.8 L254.0,389.4 L257.0,391.0 L260.0,392.6 L263.0,394.1 L266.0,395.6 L269.0,397.0 L272.0,398.5 L275.0,399.8 L278.0,401.2 L281.0,402.5 L284.0,403.8 L287.0,405.1 L290.0,406.3 L293.0,407.5 L296.0,408.7 L299.0,409.8 L302.0,411.0 L305.0,412.1 L308.0,413.1 L311.0,414.2 L314.0,415.2 L317.0,416.2 L320.0,417.2 L323.0,418.2 L326.0,419.2 L329.0,420.1 L332.0,421.0 L335.0,421.9 L338.0,422.8 L341.0,423.7 L344.0,424.6 L347.0,425.4 L350.0,426.3 L353.0,427.1 L356.0,427.9 L359.0,428.7 L362.0,429.5 L365.0,430.3 L368.0,431.1 L371.0,431.9 L374.0,432.6 L377.0,433.4 L380.0,434.1 L383.0,434.9 L386.0,435.7 L389.0,436.4 L392.0,437.2 L395.0,437.9 L398.0,438.6 L401.0,439.3 L404.0,440.0 L407.0,440.7 L410.0,441.3 L413.0,442.0 L416.0,442.6 L419.0,443.3 L422.0,444.0 L425.0,444.6 L428.0,445.3 L431.0,446.0 L434.0,446.7 L437.0,447.5 L440.0,448.2 L443.0,449.0 L446.0,449.8 L449.0,450.5 L452.0,451.4 L455.0,452.2 L458.0,453.0 L461.0,453.8 L464.0,454.7 L467.0,455.5 L470.0,456.4 L473.0,457.2 L476.0,458.1 L479.0,459.0 L482.0,459.8 L485.0,460.7 L488.0,461.6 L491.0,462.5 L494.0,463.4 L497.0,464.3 L500.0,465.2 L503.0,466.2 L506.0,467.1 L509.0,468.1 L512.0,469.1 L515.0,470.1 L518.0,471.1 L521.0,472.1 L524.0,473.1 L527.0,474.1 L530.0,475.1 L533.0,476.1 L536.0,477.0 L539.0,478.0 L542.0,478.9 L545.0,479.8 L548.0,480.7 L551.0,481.6 L554.0,482.4 L557.0,483.3 L560.0,484.1 L563.0,484.9 L566.0,485.7 L569.0,486.6 L572.0,487.4 L575.0,488.2 L578.0,489.0 L581.0,489.7 L584.0,490.5 L587.0,491.3 L590.0,492.1 L593.0,492.9 L596.0,493.7 L599.0,494.6 L602.0,495.4 L605.0,496.2 L608.0,497.0 L611.0,497.9 L614.0,498.7 L617.0,499.6 L620.0,500.4 L623.0,501.3 L626.0,502.1 L629.0,503.0 L632.0,503.8 L635.0,504.7 L638.0,505.5 L641.0,506.3 L644.0,507.2 L647.0,507.9 L650.0,508.7 L653.0,509.4 L656.0,510.1 L659.0,510.8 L662.0,511.6 L665.0,512.3 L668.0,513.1 L671.0,513.9 L674.0,514.8 L677.0,515.8 L680.0,516.9 L683.0,518.1 L686.0,519.4 L689.0,520.9 L692.0,522.5 L695.0,524.1 L698.0,525.8 L701.0,527.6 L704.0,529.4 L707.0,531.1 L710.0,532.9 L713.0,534.5 L716.0,536.2 L719.0,537.8 L722.0,539.4 L725.0,541.0 L728.0,542.7 L731.0,544.3 L734.0,546.0 L737.0,547.6 L740.0,549.2 L743.0,550.8 L746.0,552.3 L749.0,553.8 L752.0,555.3 L755.0,556.7 L758.0,558.1 L761.0,559.4 L764.0,560.7 L767.0,561.9 L770.0,563.2 L773.0,564.4 L776.0,565.6 L779.0,566.8 L782.0,568.1 L785.0,569.3 L788.0,570.6 L791.0,571.9 L794.0,573.2 L797.0,574.6 L800.0,576.0 L803.0,577.6 L806.0,579.2 L809.0,580.6 L812.0,581.8 L815.0,583.1 L818.0,584.3 L821.0,585.4 L824.0,586.5 L827.0,587.6 L830.0,588.7 L833.0,589.7 L836.0,590.7 L839.0,591.7 L842.0,592.7 L845.0,593.7 L848.0,594.6 L851.0,595.6 L854.0,596.6 L857.0,597.5 L860.0,598.5 L863.0,599.5 L866.0,600.5 L869.0,601.5 L872.0,602.5 L875.0,603.4 L878.0,604.4 L881.0,605.3 L884.0,606.2 L887.0,607.1 L890.0,608.1 L893.0,609.1 L896.0,610.3 L899.0,611.6 L902.0,613.1 L905.0,614.8 L908.0,616.8 L911.0,618.9 L914.0,621.2 L917.0,623.6 L920.0,626.1 L923.0,628.6 L926.0,631.1 L929.0,633.6 L932.0,636.1 L935.0,638.5 L938.0,640.8 L941.0,643.0 L944.0,645.3 L947.0,647.6 L950.0,649.9 L953.0,652.2 L956.0,654.5 L959.0,656.9 L962.0,659.2 L965.0,661.5 L968.0,663.7 L971.0,666.0 L974.0,668.1 L977.0,670.3 L980.0,672.4 L983.0,674.4 L986.0,676.3 L989.0,678.1 L992.0,679.9 L995.0,681.6 L998.0,683.1 L1001.0,684.6 L1004.0,686.1 L1007.0,687.5 L1010.0,688.8 L1013.0,690.1 L1016.0,691.4 L1019.0,692.7 L1022.0,694.0 L1025.0,695.3 L1028.0,696.6 L1031.0,697.9 L1034.0,699.3 L1037.0,700.8 L1040.0,702.3 L1043.0,703.9 L1046.0,705.6 L1049.0,707.4 L1052.0,709.3 L1055.0,711.4 L1058.0,713.5 L1061.0,715.7 L1064.0,718.0 L1067.0,720.3 L1070.0,722.7 L1073.0,725.2 L1076.0,727.7 L1079.0,730.2 L1082.0,732.7 L1085.0,735.2 L1088.0,737.6 L1091.0,740.1 L1094.0,742.5 L1097.0,744.9 L1100.0,747.2 L1103.0,749.4 L1106.0,751.6 L1109.0,753.8 L1112.0,756.0 L1115.0,758.2 L1118.0,760.3 L1121.0,762.5 L1124.0,764.6 L1127.0,766.7 L1130.0,768.7 L1133.0,770.8 L1136.0,772.9 L1139.0,775.0 L1142.0,777.1 L1145.0,779.2 L1148.0,781.1 L1151.0,783.1 L1154.0,784.9 L1157.0,786.6 L1160.0,788.2 L1163.0,789.6 L1166.0,791.0 L1169.0,792.3 L1172.0,793.6 L1175.0,794.8 L1178.0,796.0 L1181.0,797.3 L1184.0,798.7 L1187.0,800.1 L1190.0,801.5 L1193.0,803.0 L1196.0,804.5 L1199.0,806.0 L1202.0,807.5 L1205.0,809.1 L1208.0,810.6 L1211.0,812.2 L1214.0,813.8 L1217.0,815.4 L1220.0,817.0 L1223.0,818.6 L1226.0,820.2 L1229.0,821.8 L1232.0,823.4 L1235.0,825.0 L1238.0,826.6 L1241.0,828.2 L1244.0,829.9 L1247.0,831.6 L1250.0,833.4 L1253.0,835.2 L1256.0,836.9 L1259.0,838.6 L1262.0,840.2 L1265.0,841.7 L1268.0,843.0 L1271.0,844.2 L1274.0,845.2 L1277.0,846.1 L1280.0,847.0 L1283.0,847.9 L1286.0,848.8 L1289.0,849.6 L1292.0,850.6 L1295.0,851.6 L1298.0,852.8 L1301.0,854.2 L1304.0,855.6 L1307.0,857.1 L1310.0,858.6 L1313.0,860.1 L1316.0,861.5 L1319.0,862.7 L1322.0,863.8 L1325.0,864.7 L1328.0,865.3 L1331.0,865.8 L1334.0,866.3 L1337.0,866.7 L1340.0,867.1 L1343.0,867.4 L1346.0,867.7 L1349.0,868.0 L1352.0,868.3 L1355.0,868.7 L1358.0,869.0 L1361.0,869.3 L1364.0,869.7 L1367.0,870.2 L1370.0,870.7 L1373.0,871.2 L1376.0,871.8 L1379.0,872.5 L1382.0,873.1 L1385.0,873.8 L1388.0,874.5 L1391.0,875.2 L1394.0,876.0 L1397.0,876.7 L1400.0,877.4 L1403.0,878.1 L1406.0,878.8 L1409.0,879.5 L1412.0,880.2 L1415.0,880.9 L1418.0,881.6 L1421.0,882.3 L1424.0,882.9 L1427.0,883.6 L1430.0,884.2 L1433.0,884.8 L1436.0,885.4 L1439.0,886.0 L1442.0,886.6 L1445.0,887.1 L1448.0,887.6 L1451.0,887.9 L1454.0,888.1 L1457.0,888.3 L1460.0,888.5 L1463.0,888.6 L1466.0,888.7 L1469.0,888.8 L1472.0,888.8 L1475.0,888.7 L1478.0,888.4 L1481.0,887.9 L1484.0,887.2 L1487.0,886.4 L1490.0,885.6 L1493.0,884.8 L1496.0,883.7 L1499.0,882.3 L1502.0,880.7 L1505.0,879.0 L1508.0,877.3 L1511.0,875.6 L1514.0,874.0 L1517.0,872.6 L1520.0,871.3 L1523.0,870.1 L1526.0,868.9 L1529.0,867.7 L1532.0,866.6 L1535.0,865.4 L1538.0,864.1 L1541.0,862.7 L1544.0,861.3 L1547.0,859.9 L1550.0,858.6 L1553.0,857.4 L1556.0,856.4 L1559.0,855.4 L1562.0,854.5 L1565.0,853.7 L1568.0,853.1 L1571.0,852.8 L1574.0,852.7 L1577.0,852.5 L1580.0,852.5 L1583.0,852.4 L1586.0,852.4 L1589.0,852.6 L1592.0,852.8 L1595.0,853.2 L1598.0,853.6 L1601.0,854.1 L1604.0,854.5 L1607.0,855.0 L1610.0,855.6 L1613.0,856.2 L1616.0,856.9 L1619.0,857.7 L1622.0,858.5 L1625.0,859.3 L1628.0,860.1 L1631.0,860.8 L1634.0,861.5 L1637.0,862.2 L1640.0,862.9 L1643.0,863.6 L1646.0,864.3 L1649.0,865.0 L1652.0,865.6 L1655.0,866.3 L1658.0,866.9 L1661.0,867.6 L1664.0,868.1 L1667.0,868.7 L1670.0,869.2 L1673.0,869.7 L1676.0,870.1 L1679.0,870.5 L1682.0,870.9 L1685.0,871.3 L1688.0,871.8 L1691.0,872.2 L1694.0,872.7 L1697.0,873.2 L1700.0,873.8 L1703.0,874.5 L1706.0,875.3 L1709.0,876.1 L1712.0,877.0 L1715.0,877.8 L1718.0,878.8 L1721.0,879.7 L1724.0,880.6 L1727.0,881.4 L1730.0,882.2 L1733.0,883.1 L1736.0,883.9 L1739.0,884.7 L1742.0,885.5 L1745.0,886.3 L1748.0,887.1 L1751.0,887.9 L1754.0,888.6 L1757.0,889.3 L1760.0,890.0 L1763.0,890.7 L1766.0,891.3 L1769.0,892.0 L1772.0,892.6 L1775.0,893.2 L1778.0,893.9 L1781.0,894.5 L1784.0,895.1 L1787.0,895.7 L1790.0,896.4 L1793.0,897.0 L1796.0,897.6 L1799.0,898.2 L1802.0,898.7 L1805.0,899.2 L1808.0,899.8 L1811.0,900.3 L1814.0,900.8 L1817.0,901.3 L1820.0,901.9 L1823.0,902.5 L1826.0,903.2 L1829.0,903.9 L1832.0,904.8 L1835.0,905.7 L1838.0,907.0 L1841.0,908.5 L1844.0,910.1 L1847.0,911.8 L1850.0,913.5 L1853.0,915.1 L1856.0,916.6 L1859.0,917.9 L1862.0,919.2 L1865.0,920.4 L1868.0,921.6 L1871.0,922.7 L1874.0,923.9 L1877.0,925.0 L1880.0,926.2 L1883.0,927.5 L1886.0,928.8 L1889.0,930.1 L1892.0,931.5 L1895.0,932.9 L1898.0,934.2 L1901.0,935.5 L1904.0,936.7 L1907.0,937.8 L1910.0,938.8 L1913.0,939.6 L1916.0,940.3 L1919.0,941.1 L1922.0,941.7 L1925.0,942.4 L1928.0,943.0 L1931.0,943.5 L1934.0,944.1 L1937.0,944.6 L1940.0,945.1 L1943.0,945.5 L1946.0,946.0 L1949.0,946.5 L1952.0,946.9 L1955.0,947.3 L1958.0,947.7 L1961.0,948.0 L1964.0,948.4 L1967.0,948.7 L1970.0,949.0 L1973.0,949.3 L1976.0,949.7 L1979.0,950.0 L1982.0,950.2 L1985.0,950.4 L1988.0,950.6 L1991.0,950.6 L1994.0,950.6 L1997.0,950.5 L2000.0,950.4 L2003.0,950.2 L2006.0,950.1 L2009.0,950.0 L2012.0,949.9 L2015.0,949.9 L2018.0,949.9 L2021.0,950.1 L2024.0,950.3 L2027.0,950.5 L2030.0,950.8 L2033.0,951.2 L2036.0,951.5 L2039.0,951.9 L2042.0,952.2 L2045.0,952.5 L2048.0,952.8 L2051.0,953.0 L2054.0,953.2 L2057.0,953.3 L2060.0,953.4 L2063.0,953.6 L2066.0,953.7 L2069.0,953.8 L2072.0,953.9 L2075.0,954.0 L2078.0,954.2 L2081.0,954.3 L2084.0,954.5 L2087.0,954.7 L2090.0,954.9 L2093.0,955.1 L2096.0,955.4 L2099.0,955.8 L2102.0,956.1 L2105.0,956.5 L2108.0,956.9 L2111.0,957.3 L2114.0,957.6 L2117.0,958.0 L2120.0,958.4 L2123.0,958.7 L2126.0,959.0 L2129.0,959.3 L2132.0,959.6 L2135.0,959.9 L2138.0,960.2 L2141.0,960.5 L2144.0,960.8 L2147.0,961.0 L2150.0,961.2 L2153.0,961.4 L2156.0,961.6 L2159.0,961.7 L2162.0,961.9 L2165.0,962.0 L2168.0,962.1 L2171.0,962.3 L2174.0,962.4 L2177.0,962.5 L2180.0,962.6 L2183.0,962.6 L2186.0,962.7 L2189.0,962.7 L2192.0,962.7 L2195.0,962.7 L2198.0,962.6 L2201.0,962.5 L2204.0,962.4 L2207.0,962.3 L2210.0,962.2 L2213.0,962.1 L2216.0,962.0 L2219.0,961.8 L2222.0,961.7 L2225.0,961.6 L2228.0,961.5 L2231.0,961.4 L2234.0,961.3 L2237.0,961.2 L2240.0,961.1 L2243.0,961.1 L2246.0,961.0 L2249.0,960.9 L2252.0,960.8 L2255.0,960.7 L2258.0,960.5 L2261.0,960.4 L2264.0,960.2 L2267.0,959.8 L2270.0,959.1 L2273.0,958.2 L2276.0,957.2 L2279.0,956.1 L2282.0,955.0 L2285.0,953.9 L2288.0,952.9 L2291.0,951.9 L2294.0,950.9 L2297.0,949.8 L2300.0,948.7 L2303.0,947.6 L2306.0,946.7 L2309.0,945.8 L2312.0,945.0 L2315.0,944.4 L2318.0,943.8 L2321.0,943.4 L2324.0,942.9 L2327.0,942.5 L2330.0,942.0 L2333.0,941.5 L2336.0,940.9 L2339.0,940.1 L2342.0,939.3 L2345.0,938.4 L2348.0,937.4 L2351.0,936.3 L2354.0,935.2 L2357.0,934.1 L2360.0,933.0 L2363.0,931.9 L2366.0,930.6 L2369.0,929.3 L2372.0,927.9 L2375.0,926.5 L2378.0,925.2 L2381.0,924.0 L2384.0,922.9 L2387.0,922.0 L2390.0,921.1 L2393.0,920.3 L2396.0,919.5 L2399.0,918.8 L2402.0,918.1 L2405.0,917.4 L2408.0,916.8 L2411.0,916.2 L2414.0,915.7 L2417.0,915.2 L2420.0,914.7 L2423.0,914.3 L2426.0,913.8 L2429.0,913.3 L2432.0,913.0 L2435.0,912.6 L2438.0,912.1 L2441.0,910.7 L2444.0,906.6 L2447.0,902.3 L2450.0,897.7 L2453.0,892.9 L2456.0,888.4 L2459.0,884.7 L2462.0,881.3 L2465.0,878.2 L2468.0,875.3 L2471.0,872.5 L2474.0,869.8 L2477.0,867.2 L2480.0,864.6 L2483.0,862.2 L2486.0,859.8 L2489.0,857.4 L2492.0,855.1 L2495.0,852.7 L2498.0,850.3 L2501.0,848.0 L2504.0,845.7 L2507.0,843.4 L2510.0,841.1 L2513.0,838.8 L2516.0,836.6 L2519.0,834.3 L2522.0,832.1 L2522.7,831.6" stroke="#00ffff" stroke-opacity="0.76"/>
<path d="M20.0,165.5 L23.0,166.3 L26.0,167.1 L29.0,167.9 L32.0,168.8 L35.0,169.6 L38.0,170.5 L41.0,171.3 L44.0,172.2 L47.0,173.1 L50.0,174.0 L53.0,174.9 L56.0,175.8 L59.0,176.7 L62.0,177.5 L65.0,178.4 L68.0,179.3 L71.0,180.2 L74.0,181.1 L77.0,182.1 L80.0,183.1 L83.0,184.1 L86.0,185.3 L89.0,186.5 L92.0,187.9 L95.0,189.6 L98.0,191.4 L101.0,193.3 L104.0,195.3 L107.0,197.2 L110.0,199.0 L113.0,200.6 L116.0,202.2 L119.0,203.7 L122.0,205.1 L125.0,206.5 L128.0,207.9 L131.0,209.3 L134.0,210.6 L137.0,211.9 L140.0,213.3 L143.0,214.6 L146.0,215.9 L149.0,217.2 L152.0,218.5 L155.0,219.9 L158.0,221.3 L161.0,222.7 L164.0,224.1 L167.0,225.5 L170.0,227.0 L173.0,228.4 L176.0,229.9 L179.0,231.3 L182.0,232.8 L185.0,234.3 L188.0,235.7 L191.0,237.2 L194.0,238.7 L197.0,240.3 L200.0,241.8 L203.0,243.3 L206.0,244.9 L209.0,246.4 L212.0,248.0 L215.0,249.6 L218.0,251.3 L221.0,253.0 L224.0,254.8 L227.0,256.6 L230.0,258.4 L233.0,260.2 L236.0,262.0 L239.0,263.7 L242.0,265.4 L245.0,267.0 L248.0,268.5 L251.0,269.9 L254.0,271.3 L257.0,272.7 L260.0,274.0 L263.0,275.3 L266.0,276.6 L269.0,277.9 L272.0,279.1 L275.0,280.3 L278.0,281.5 L281.0,282.7 L284.0,283.8 L287.0,285.0 L290.0,286.1 L293.0,287.3 L296.0,288.4 L299.0,289.5 L302.0,290.6 L305.0,291.7 L308.0,292.9 L311.0,294.0 L314.0,295.1 L317.0,296.2 L320.0,297.3 L323.0,298.4 L326.0,299.5 L329.0,300.5 L332.0,301.6 L335.0,302.6 L338.0,303.7 L341.0,304.7 L344.0,305.7 L347.0,306.7 L350.0,307.8 L353.0,308.8 L356.0,309.8 L359.0,310.8 L362.0,311.9 L365.0,312.9 L368.0,313.9 L371.0,315.0 L374.0,316.0 L377.0,317.1 L380.0,318.2 L383.0,319.2 L386.0,320.3 L389.0,321.4 L392.0,322.6 L395.0,323.7 L398.0,324.9 L401.0,326.0 L404.0,327.2 L407.0,328.4 L410.0,329.6 L413.0,330.8 L416.0,332.0 L419.0,333.1 L422.0,334.3 L425.0,335.5 L428.0,336.7 L431.0,337.8 L434.0,339.0 L437.0,340.1 L440.0,341.2 L443.0,342.3 L446.0,343.3 L449.0,344.4 L452.0,345.4 L455.0,346.4 L458.0,347.4 L461.0,348.3 L464.0,349.2 L467.0,350.1 L470.0,351.0 L473.0,351.9 L476.0,352.7 L479.0,353.6 L482.0,354.4 L485.0,355.2 L488.0,356.1 L491.0,356.9 L494.0,357.8 L497.0,358.6 L500.0,359.5 L503.0,360.3 L506.0,361.2 L509.0,362.1 L512.0,363.0 L515.0,363.9 L518.0,364.8 L521.0,365.7 L524.0,366.7 L527.0,367.6 L530.0,368.5 L533.0,369.5 L536.0,370.4 L539.0,371.3 L542.0,372.3 L545.0,373.2 L548.0,374.1 L551.0,375.1 L554.0,376.0 L557.0,376.9 L560.0,377.9 L563.0,378.8 L566.0,379.7 L569.0,380.6 L572.0,381.5 L575.0,382.4 L578.0,383.2 L581.0,384.1 L584.0,385.0 L587.0,385.9 L590.0,386.7 L593.0,387.6 L596.0,388.5 L599.0,389.4 L602.0,390.3 L605.0,391.2 L608.0,392.1 L611.0,393.1 L614.0,394.0 L617.0,395.0 L620.0,395.9 L623.0,396.9 L626.0,397.9 L629.0,398.9 L632.0,399.9 L635.0,401.0 L638.0,402.0 L641.0,403.0 L644.0,404.1 L647.0,405.1 L650.0,406.2 L653.0,407.3 L656.0,408.4 L659.0,409.4 L662.0,410.5 L665.0,411.7 L668.0,412.8 L671.0,413.9 L674.0,415.0 L677.0,416.2 L680.0,417.3 L683.0,418.5 L686.0,419.7 L689.0,420.9 L692.0,422.1 L695.0,423.3 L698.0,424.5 L701.0,425.7 L704.0,427.0 L707.0,428.3 L710.0,429.5 L713.0,430.8 L716.0,432.1 L719.0,433.4 L722.0,434.8 L725.0,436.2 L728.0,437.6 L731.0,439.0 L734.0,440.5 L737.0,441.9 L740.0,443.4 L743.0,444.8 L746.0,446.2 L749.0,447.6 L752.0,448.9 L755.0,450.2 L758.0,451.5 L761.0,452.7 L764.0,453.9 L767.0,455.1 L770.0,456.3 L773.0,457.5 L776.0,458.7 L779.0,459.8 L782.0,461.0 L785.0,462.1 L788.0,463.3 L791.0,464.5 L794.0,465.6 L797.0,466.8 L800.0,468.0 L803.0,469.2 L806.0,470.5 L809.0,471.7 L812.0,473.0 L815.0,474.3 L818.0,475.5 L821.0,476.8 L824.0,478.1 L827.0,479.3 L830.0,480.6 L833.0,481.9 L836.0,483.1 L839.0,484.4 L842.0,485.7 L845.0,487.0 L848.0,488.2 L851.0,489.5 L854.0,490.8 L857.0,492.1 L860.0,493.3 L863.0,494.6 L866.0,495.9 L869.0,497.2 L872.0,498.5 L875.0,499.8 L878.0,501.0 L881.0,502.3 L884.0,503.6 L887.0,504.9 L890.0,506.2 L893.0,507.5 L896.0,508.8 L899.0,510.1 L902.0,511.4 L905.0,512.7 L908.0,514.1 L911.0,515.4 L914.0,516.7 L917.0,518.0 L920.0,519.3 L923.0,520.7 L926.0,522.0 L929.0,523.3 L932.0,524.7 L935.0,526.0 L938.0,527.4 L941.0,528.7 L944.0,530.1 L947.0,531.4 L950.0,532.8 L953.0,534.2 L956.0,535.5 L959.0,536.9 L962.0,538.3 L965.0,539.7 L968.0,541.1 L971.0,542.4 L974.0,543.8 L977.0,545.2 L980.0,546.7 L983.0,548.1 L986.0,549.5 L989.0,550.9 L992.0,552.3 L995.0,553.8 L998.0,555.2 L1001.0,556.6 L1004.0,558.1 L1007.0,559.5 L1010.0,561.0 L1013.0,562.5 L1016.0,563.9 L1019.0,565.4 L1022.0,566.9 L1025.0,568.4 L1028.0,569.9 L1031.0,571.4 L1034.0,572.9 L1037.0,574.4 L1040.0,575.9 L1043.0,577.5 L1046.0,579.0 L1049.0,580.5 L1052.0,582.1 L1055.0,583.7 L1058.0,585.2 L1061.0,586.8 L1064.0,588.4 L1067.0,589.9 L1070.0,591.5 L1073.0,593.1 L1076.0,594.7 L1079.0,596.4 L1082.0,598.0 L1085.0,599.7 L1088.0,601.5 L1091.0,603.3 L1094.0,605.1 L1097.0,607.0 L1100.0,608.8 L1103.0,610.7 L1106.0,612.6 L1109.0,614.4 L1112.0,616.2 L1115.0,618.0 L1118.0,619.7 L1121.0,621.4 L1124.0,623.0 L1127.0,624.7 L1130.0,626.3 L1133.0,628.0 L1136.0,629.6 L1139.0,631.2 L1142.0,632.8 L1145.0,634.4 L1148.0,636.0 L1151.0,637.6 L1154.0,639.2 L1157.0,640.7 L1160.0,642.3 L1163.0,643.8 L1166.0,645.4 L1169.0,646.9 L1172.0,648.4 L1175.0,649.9 L1178.0,651.4 L1181.0,652.9 L1184.0,654.4 L1187.0,655.9 L1190.0,657.3 L1193.0,658.8 L1196.0,660.3 L1199.0,661.8 L1202.0,663.2 L1205.0,664.7 L1208.0,666.2 L1211.0,667.7 L1214.0,669.1 L1217.0,670.6 L1220.0,672.1 L1223.0,673.6 L1226.0,675.1 L1229.0,676.6 L1232.0,678.0 L1235.0,679.5 L1238.0,680.9 L1241.0,682.4 L1244.0,683.8 L1247.0,685.2 L1250.0,686.6 L1253.0,688.0 L1256.0,689.4 L1259.0,690.7 L1262.0,692.1 L1265.0,693.4 L1268.0,694.7 L1271.0,696.0 L1274.0,697.2 L1277.0,698.5 L1280.0,699.8 L1283.0,701.0 L1286.0,702.2 L1289.0,703.5 L1292.0,704.7 L1295.0,705.9 L1298.0,707.2 L1301.0,708.4 L1304.0,709.6 L1307.0,710.9 L1310.0,712.1 L1313.0,713.3 L1316.0,714.6 L1319.0,715.8 L1322.0,717.1 L1325.0,718.3 L1328.0,719.5 L1331.0,720.7 L1334.0,721.9 L1337.0,723.1 L1340.0,724.2 L1343.0,725.3 L1346.0,726.4 L1349.0,727.5 L1352.0,728.5 L1355.0,729.6 L1358.0,730.6 L1361.0,731.5 L1364.0,732.5 L1367.0,733.4 L1370.0,734.4 L1373.0,735.3 L1376.0,736.3 L1379.0,737.3 L1382.0,738.2 L1385.0,739.2 L1388.0,740.2 L1391.0,741.2 L1394.0,742.2 L1397.0,743.2 L1400.0,744.1 L1403.0,745.2 L1406.0,746.2 L1409.0,747.2 L1412.0,748.3 L1415.0,749.4 L1418.0,750.5 L1421.0,751.7 L1424.0,752.8 L1427.0,753.9 L1430.0,755.1 L1433.0,756.3 L1436.0,757.5 L1439.0,758.6 L1442.0,759.8 L1445.0,760.9 L1448.0,761.9 L1451.0,762.9 L1454.0,763.8 L1457.0,764.6 L1460.0,765.3 L1463.0,766.1 L1466.0,766.7 L1469.0,767.3 L1472.0,767.9 L1475.0,768.4 L1478.0,768.8 L1481.0,769.3 L1484.0,769.7 L1487.0,770.1 L1490.0,770.4 L1493.0,770.7 L1496.0,770.9 L1499.0,771.0 L1502.0,771.0 L1505.0,771.1 L1508.0,771.1 L1511.0,771.2 L1514.0,771.2 L1517.0,771.3 L1520.0,771.3 L1523.0,771.3 L1526.0,771.4 L1529.0,771.4 L1532.0,771.4 L1535.0,771.4 L1538.0,771.5 L1541.0,771.5 L1544.0,771.6 L1547.0,771.6 L1550.0,771.7 L1553.0,771.7 L1556.0,771.8 L1559.0,771.8 L1562.0,771.9 L1565.0,772.0 L1568.0,772.0 L1571.0,772.1 L1574.0,772.3 L1577.0,772.5 L1580.0,772.8 L1583.0,773.3 L1586.0,773.9 L1589.0,774.6 L1592.0,775.2 L1595.0,775.9 L1598.0,776.5 L1601.0,777.2 L1604.0,778.0 L1607.0,778.7 L1610.0,779.5 L1613.0,780.4 L1616.0,781.2 L1619.0,782.1 L1622.0,782.9 L1625.0,783.8 L1628.0,784.7 L1631.0,785.5 L1634.0,786.3 L1637.0,787.1 L1640.0,787.9 L1643.0,788.7 L1646.0,789.4 L1649.0,790.1 L1652.0,790.8 L1655.0,791.5 L1658.0,792.1 L1661.0,792.8 L1664.0,793.4 L1667.0,794.1 L1670.0,794.7 L1673.0,795.4 L1676.0,796.0 L1679.0,796.7 L1682.0,797.3 L1685.0,798.0 L1688.0,798.7 L1691.0,799.4 L1694.0,800.2 L1697.0,800.9 L1700.0,801.6 L1703.0,802.4 L1706.0,803.2 L1709.0,803.9 L1712.0,804.7 L1715.0,805.5 L1718.0,806.3 L1721.0,807.1 L1724.0,807.9 L1727.0,808.7 L1730.0,809.5 L1733.0,810.3 L1736.0,811.1 L1739.0,811.9 L1742.0,812.7 L1745.0,813.5 L1748.0,814.4 L1751.0,815.2 L1754.0,816.1 L1757.0,816.9 L1760.0,817.8 L1763.0,818.6 L1766.0,819.4 L1769.0,820.1 L1772.0,820.8 L1775.0,821.5 L1778.0,822.2 L1781.0,822.8 L1784.0,823.4 L1787.0,824.1 L1790.0,824.7 L1793.0,825.3 L1796.0,826.0 L1799.0,826.7 L1802.0,827.3 L1805.0,828.0 L1808.0,828.6 L1811.0,829.3 L1814.0,829.9 L1817.0,830.6 L1820.0,831.3 L1823.0,832.0 L1826.0,832.7 L1829.0,833.5 L1832.0,834.4 L1835.0,835.3 L1838.0,836.3 L1841.0,837.4 L1844.0,838.6 L1847.0,839.8 L1850.0,841.1 L1853.0,842.4 L1856.0,843.7 L1859.0,845.0 L1862.0,846.3 L1865.0,847.5 L1868.0,848.7 L1871.0,849.8 L1874.0,850.8 L1877.0,851.9 L1880.0,853.0 L1883.0,854.1 L1886.0,855.1 L1889.0,856.2 L1892.0,857.2 L1895.0,858.2 L1898.0,859.1 L1901.0,860.0 L1904.0,860.9 L1907.0,861.7 L1910.0,862.5 L1913.0,863.2 L1916.0,864.0 L1919.0,864.7 L1922.0,865.4 L1925.0,866.1 L1928.0,866.8 L1931.0,867.4 L1934.0,868.1 L1937.0,868.7 L1940.0,869.3 L1943.0,870.0 L1946.0,870.6 L1949.0,871.2 L1952.0,871.8 L1955.0,872.4 L1958.0,872.9 L1961.0,873.5 L1964.0,874.1 L1967.0,874.6 L1970.0,875.2 L1973.0,875.7 L1976.0,876.2 L1979.0,876.7 L1982.0,877.2 L1985.0,877.7 L1988.0,878.3 L1991.0,878.8 L1994.0,879.3 L1997.0,879.8 L2000.0,880.3 L2003.0,880.7 L2006.0,881.2 L2009.0,881.7 L2012.0,882.2 L2015.0,882.7 L2018.0,883.2 L2021.0,883.6 L2024.0,884.1 L2027.0,884.6 L2030.0,885.0 L2033.0,885.5 L2036.0,886.0 L2039.0,886.4 L2042.0,886.9 L2045.0,887.4 L2048.0,887.9 L2051.0,888.4 L2054.0,888.8 L2057.0,889.3 L2060.0,889.8 L2063.0,890.3 L2066.0,890.8 L2069.0,891.3 L2072.0,891.9 L2075.0,892.4 L2078.0,892.9 L2081.0,893.4 L2084.0,893.9 L2087.0,894.4 L2090.0,894.9 L2093.0,895.4 L2096.0,895.9 L2099.0,896.4 L2102.0,896.9 L2105.0,897.3 L2108.0,897.8 L2111.0,898.3 L2114.0,898.8 L2117.0,899.3 L2120.0,899.7 L2123.0,900.2 L2126.0,900.7 L2129.0,901.2 L2132.0,901.6 L2135.0,902.1 L2138.0,902.6 L2141.0,903.0 L2144.0,903.5 L2147.0,903.9 L2150.0,904.4 L2153.0,904.8 L2156.0,905.3 L2159.0,905.7 L2162.0,906.2 L2165.0,906.6 L2168.0,907.0 L2171.0,907.5 L2174.0,907.9 L2177.0,908.4 L2180.0,908.8 L2183.0,909.3 L2186.0,909.7 L2189.0,910.1 L2192.0,910.5 L2195.0,910.9 L2198.0,911.2 L2201.0,911.5 L2204.0,911.8 L2207.0,912.1 L2210.0,912.3 L2213.0,912.5 L2216.0,912.7 L2219.0,912.9 L2222.0,913.1 L2225.0,913.3 L2228.0,913.5 L2231.0,913.7 L2234.0,913.8 L2237.0,914.0 L2240.0,914.1 L2243.0,914.3 L2246.0,914.5 L2249.0,914.7 L2252.0,914.8 L2255.0,915.0 L2258.0,915.1 L2261.0,915.2 L2264.0,915.3 L2267.0,915.3 L2270.0,915.2 L2273.0,915.1 L2276.0,914.9 L2279.0,914.7 L2282.0,914.5 L2285.0,914.3 L2288.0,914.1 L2291.0,913.9 L2294.0,913.6 L2297.0,913.4 L2300.0,913.1 L2303.0,912.9 L2306.0,912.6 L2309.0,912.5 L2312.0,912.4 L2315.0,912.4 L2318.0,912.3 L2321.0,912.3 L2324.0,912.3 L2327.0,912.3 L2330.0,912.3 L2333.0,912.2 L2336.0,912.2 L2339.0,912.1 L2342.0,911.9 L2345.0,911.6 L2348.0,911.2 L2351.0,910.7 L2354.0,910.3 L2357.0,909.8 L2360.0,909.4 L2363.0,909.0 L2366.0,908.5 L2369.0,908.0 L2372.0,907.5 L2375.0,907.0 L2378.0,906.5 L2381.0,906.1 L2384.0,905.7 L2387.0,905.4 L2390.0,905.1 L2393.0,904.8 L2396.0,904.5 L2399.0,904.3 L2402.0,904.1 L2405.0,903.9 L2408.0,903.7 L2411.0,903.6 L2414.0,903.6 L2417.0,903.5 L2420.0,903.5 L2423.0,903.5 L2426.0,903.4 L2429.0,903.4 L2432.0,903.3 L2435.0,903.0 L2438.0,902.1 L2441.0,900.7 L2444.0,899.1 L2447.0,896.5 L2450.0,893.4 L2453.0,891.0 L2456.0,889.2 L2459.0,887.6 L2462.0,886.1 L2465.0,884.8 L2468.0,883.4 L2471.0,882.0 L2474.0,880.6 L2477.0,879.3 L2480.0,877.9 L2483.0,876.6 L2486.0,875.3 L2489.0,874.0 L2492.0,872.6 L2495.0,871.3 L2498.0,870.0 L2501.0,868.6 L2504.0,867.3 L2507.0,866.0 L2510.0,864.6 L2513.0,863.3 L2516.0,862.0 L2519.0,860.6 L2522.0,859.3 L2522.7,859.0" stroke="#0000ff" stroke-opacity="0.68"/>
</g>
<g id="candles" fill="#000000" shape-rendering="crispEdges" clip-path="url(#pane)">
<rect x="20" y="327" width="2" height="19"/><rect x="19" y="329" width="4" height="13"/>
<rect x="24" y="324" width="2" height="24"/><rect x="23" y="327" width="4" height="17"/>
<rect x="29" y="305" width="2" height="38"/><rect x="28" y="306" width="4" height="36"/>
<rect x="33" y="251" width="2" height="60"/><rect x="32" y="269" width="4" height="39"/>
<rect x="38" y="266" width="2" height="60"/><rect x="37" y="269" width="4" height="41"/>
<rect x="43" y="311" width="2" height="19"/><rect x="42" y="312" width="4" height="11"/>
<rect x="47" y="306" width="2" height="18"/><rect x="46" y="320" width="4" height="2"/>
<rect x="52" y="312" width="2" height="15"/><rect x="51" y="318" width="4" height="6"/>
<rect x="56" y="322" width="2" height="21"/><rect x="55" y="323" width="4" height="9"/>
<rect x="61" y="326" width="2" height="17"/><rect x="60" y="332" width="4" height="7"/>
<rect x="66" y="334" width="2" height="30"/><rect x="65" y="337" width="4" height="25"/>
<rect x="70" y="356" width="2" height="23"/><rect x="69" y="362" width="4" height="5"/>
<rect x="75" y="353" width="2" height="40"/><rect x="74" y="372" width="4" height="20"/>
<rect x="79" y="361" width="2" height="31"/><rect x="78" y="373" width="4" height="18"/>
<rect x="84" y="363" width="2" height="29"/><rect x="83" y="373" width="4" height="18"/>
<rect x="89" y="374" width="2" height="21"/><rect x="88" y="383" width="4" height="8"/>
<rect x="93" y="385" width="2" height="119"/><rect x="92" y="388" width="4" height="91"/>
<rect x="98" y="462" width="2" height="63"/><rect x="97" y="479" width="4" height="7"/>
<rect x="102" y="472" width="2" height="190"/><rect x="101" y="489" width="4" height="101"/>
<rect x="107" y="524" width="2" height="88"/><rect x="106" y="525" width="4" height="65"/>
<rect x="112" y="481" width="2" height="55"/><rect x="111" y="509" width="4" height="20"/>
<rect x="116" y="462" width="2" height="81"/><rect x="115" y="469" width="4" height="41"/>
<rect x="121" y="445" width="2" height="33"/><rect x="120" y="447" width="4" height="23"/>
<rect x="125" y="423" width="2" height="43"/><rect x="124" y="430" width="4" height="17"/>
<rect x="130" y="428" width="2" height="40"/><rect x="129" y="429" width="4" height="36"/>
<rect x="135" y="443" width="2" height="60"/><rect x="134" y="464" width="4" height="38"/>
<rect x="139" y="481" width="2" height="27"/><rect x="138" y="490" width="4" height="12"/>
<rect x="144" y="470" width="2" height="25"/><rect x="143" y="489" width="4" height="3"/>
<rect x="149" y="464" width="2" height="36"/><rect x="148" y="486" width="4" height="14"/>
<rect x="153" y="451" width="2" height="72"/><rect x="152" y="493" width="4" height="2"/>
<rect x="158" y="489" width="2" height="11"/><rect x="157" y="493" width="4" height="3"/>
<rect x="162" y="489" width="2" height="17"/><rect x="161" y="497" width="4" height="5"/>
<rect x="167" y="489" width="2" height="19"/><rect x="166" y="495" width="4" height="7"/>
<rect x="172" y="486" width="2" height="19"/><rect x="171" y="493" width="4" height="9"/>
<rect x="176" y="499" width="2" height="22"/><rect x="175" y="501" width="4" height="3"/>
<rect x="181" y="503" width="2" height="24"/><rect x="180" y="507" width="4" height="12"/>
<rect x="185" y="503" width="2" height="18"/><rect x="184" y="505" width="4" height="13"/>
<rect x="190" y="498" width="2" height="12"/><rect x="189" y="504" width="4" height="2"/>
<rect x="195" y="501" width="2" height="20"/><rect x="194" y="504" width="4" height="10"/>
<rect x="199" y="512" width="2" height="41"/><rect x="198" y="514" width="4" height="34"/>
<rect x="204" y="535" width="2" height="25"/><rect x="203" y="550" width="4" height="8"/>
<rect x="208" y="546" width="2" height="19"/><rect x="207" y="558" width="4" height="2"/>
<rect x="213" y="535" width="2" height="24"/><rect x="212" y="545" width="4" height="13"/>
<rect x="218" y="540" width="2" height="22"/><rect x="217" y="546" width="4" height="4"/>
<rect x="222" y="530" width="2" height="22"/><rect x="221" y="535" width="4" height="15"/>
<rect x="227" y="504" width="2" height="32"/><rect x="226" y="531" width="4" height="2"/>
<rect x="231" y="529" width="2" height="23"/><rect x="230" y="533" width="4" height="18"/>
<rect x="236" y="550" width="2" height="31"/><rect x="235" y="551" width="4" height="14"/>
<rect x="241" y="555" width="2" height="11"/><rect x="240" y="560" width="4" height="5"/>
<rect x="245" y="560" width="2" height="12"/><rect x="244" y="561" width="4" height="3"/>
<rect x="250" y="558" width="2" height="12"/><rect x="249" y="558" width="4" height="10"/>
<rect x="254" y="540" width="2" height="26"/><rect x="253" y="551" width="4" height="9"/>
<rect x="259" y="518" width="2" height="35"/><rect x="258" y="521" width="4" height="31"/>
<rect x="264" y="515" width="2" height="12"/><rect x="263" y="517" width="4" height="2"/>
<rect x="268" y="506" width="2" height="19"/><rect x="267" y="509" width="4" height="9"/>
<rect x="273" y="496" width="2" height="19"/><rect x="272" y="498" width="4" height="12"/>
<rect x="277" y="479" width="2" height="21"/><rect x="276" y="497" width="4" height="2"/>
<rect x="282" y="498" width="2" height="25"/><rect x="281" y="500" width="4" height="16"/>
<rect x="287" y="514" width="2" height="20"/><rect x="286" y="516" width="4" height="15"/>
<rect x="291" y="515" width="2" height="40"/><rect x="290" y="518" width="4" height="13"/>
<rect x="296" y="509" width="2" height="40"/><rect x="295" y="519" width="4" height="10"/>
<rect x="300" y="510" width="2" height="20"/><rect x="299" y="518" width="4" height="11"/>
<rect x="305" y="509" width="2" height="11"/><rect x="304" y="510" width="4" height="8"/>
<rect x="310" y="495" width="2" height="23"/><rect x="309" y="508" width="4" height="2"/>
<rect x="314" y="492" width="2" height="17"/><rect x="313" y="498" width="4" height="11"/>
<rect x="319" y="492" width="2" height="10"/><rect x="318" y="496" width="4" height="2"/>
<rect x="324" y="483" width="2" height="15"/><rect x="323" y="488" width="4" height="9"/>
<rect x="328" y="457" width="2" height="32"/><rect x="327" y="472" width="4" height="17"/>
<rect x="333" y="466" width="2" height="43"/><rect x="332" y="470" width="4" height="14"/>
<rect x="337" y="484" width="2" height="25"/><rect x="336" y="485" width="4" height="12"/>
<rect x="342" y="492" width="2" height="33"/><rect x="341" y="500" width="4" height="20"/>
<rect x="347" y="507" width="2" height="18"/><rect x="346" y="509" width="4" height="15"/>
<rect x="351" y="507" width="2" height="19"/><rect x="350" y="510" width="4" height="14"/>
<rect x="356" y="514" width="2" height="12"/><rect x="355" y="516" width="4" height="2"/>
<rect x="360" y="509" width="2" height="14"/><rect x="359" y="512" width="4" height="2"/>
<rect x="365" y="502" width="2" height="47"/><rect x="364" y="513" width="4" height="2"/>
<rect x="370" y="483" width="2" height="34"/><rect x="369" y="485" width="4" height="29"/>
<rect x="374" y="468" width="2" height="23"/><rect x="373" y="473" width="4" height="13"/>
<rect x="379" y="468" width="2" height="13"/><rect x="378" y="472" width="4" height="7"/>
<rect x="383" y="472" width="2" height="27"/><rect x="382" y="472" width="4" height="26"/>
<rect x="388" y="489" width="2" height="19"/><rect x="387" y="494" width="4" height="4"/>
<rect x="393" y="485" width="2" height="29"/><rect x="392" y="496" width="4" height="11"/>
<rect x="397" y="502" width="2" height="21"/><rect x="396" y="503" width="4" height="6"/>
<rect x="402" y="507" width="2" height="40"/><rect x="401" y="509" width="4" height="3"/>
<rect x="406" y="495" width="2" height="16"/><rect x="405" y="496" width="4" height="14"/>
<rect x="411" y="496" width="2" height="18"/><rect x="410" y="497" width="4" height="10"/>
<rect x="416" y="489" width="2" height="20"/><rect x="415" y="491" width="4" height="16"/>
<rect x="420" y="487" width="2" height="22"/><rect x="419" y="489" width="4" height="13"/>
<rect x="425" y="468" width="2" height="28"/><rect x="424" y="484" width="4" height="5"/>
<rect x="429" y="484" width="2" height="28"/><rect x="428" y="484" width="4" height="17"/>
<rect x="434" y="497" width="2" height="9"/><rect x="433" y="497" width="4" height="3"/>
<rect x="439" y="497" width="2" height="12"/><rect x="438" y="498" width="4" height="9"/>
<rect x="443" y="504" width="2" height="17"/><rect x="442" y="506" width="4" height="9"/>
<rect x="448" y="511" width="2" height="23"/><rect x="447" y="516" width="4" height="15"/>
<rect x="452" y="524" width="2" height="15"/><rect x="451" y="529" width="4" height="2"/>
<rect x="457" y="526" width="2" height="8"/><rect x="456" y="528" width="4" height="4"/>
<rect x="462" y="516" width="2" height="16"/><rect x="461" y="518" width="4" height="11"/>
<rect x="466" y="514" width="2" height="13"/><rect x="465" y="517" width="4" height="9"/>
<rect x="471" y="514" width="2" height="18"/><rect x="470" y="517" width="4" height="9"/>
<rect x="475" y="510" width="2" height="21"/><rect x="474" y="516" width="4" height="2"/>
<rect x="480" y="512" width="2" height="22"/><rect x="479" y="516" width="4" height="2"/>
<rect x="485" y="509" width="2" height="18"/><rect x="484" y="516" width="4" height="10"/>
<rect x="489" y="518" width="2" height="11"/><rect x="488" y="519" width="4" height="7"/>
<rect x="494" y="519" width="2" height="17"/><rect x="493" y="521" width="4" height="13"/>
<rect x="499" y="517" width="2" height="21"/><rect x="498" y="518" width="4" height="18"/>
<rect x="503" y="504" width="2" height="26"/><rect x="502" y="518" width="4" height="12"/>
<rect x="508" y="525" width="2" height="28"/><rect x="507" y="529" width="4" height="15"/>
<rect x="512" y="523" width="2" height="22"/><rect x="511" y="529" width="4" height="15"/>
<rect x="517" y="522" width="2" height="13"/><rect x="516" y="527" width="4" height="8"/>
<rect x="522" y="532" width="2" height="35"/><rect x="521" y="533" width="4" height="22"/>
<rect x="526" y="540" width="2" height="21"/><rect x="525" y="550" width="4" height="7"/>
<rect x="531" y="540" width="2" height="33"/><rect x="530" y="551" width="4" height="19"/>
<rect x="535" y="565" width="2" height="17"/><rect x="534" y="571" width="4" height="3"/>
<rect x="540" y="557" width="2" height="21"/><rect x="539" y="558" width="4" height="17"/>
<rect x="545" y="553" width="2" height="15"/><rect x="544" y="557" width="4" height="2"/>
<rect x="549" y="539" width="2" height="26"/><rect x="548" y="540" width="4" height="20"/>
<rect x="554" y="534" width="2" height="11"/><rect x="553" y="540" width="4" height="3"/>
<rect x="558" y="533" width="2" height="20"/><rect x="557" y="538" width="4" height="5"/>
<rect x="563" y="521" width="2" height="25"/><rect x="562" y="525" width="4" height="19"/>
<rect x="568" y="504" width="2" height="37"/><rect x="567" y="518" width="4" height="8"/>
<rect x="572" y="518" width="2" height="47"/><rect x="571" y="518" width="4" height="37"/>
<rect x="577" y="542" width="2" height="14"/><rect x="576" y="548" width="4" height="7"/>
<rect x="581" y="540" width="2" height="17"/><rect x="580" y="545" width="4" height="2"/>
<rect x="586" y="542" width="2" height="55"/><rect x="585" y="546" width="4" height="36"/>
<rect x="591" y="566" width="2" height="18"/><rect x="590" y="580" width="4" height="2"/>
<rect x="595" y="571" width="2" height="24"/><rect x="594" y="578" width="4" height="4"/>
<rect x="600" y="571" width="2" height="9"/><rect x="599" y="574" width="4" height="3"/>
<rect x="604" y="519" width="2" height="61"/><rect x="603" y="568" width="4" height="10"/>
<rect x="609" y="529" width="2" height="41"/><rect x="608" y="538" width="4" height="31"/>
<rect x="614" y="504" width="2" height="55"/><rect x="613" y="538" width="4" height="14"/>
<rect x="618" y="535" width="2" height="59"/><rect x="617" y="552" width="4" height="32"/>
<rect x="623" y="574" width="2" height="20"/><rect x="622" y="585" width="4" height="2"/>
<rect x="627" y="585" width="2" height="18"/><rect x="626" y="586" width="4" height="16"/>
<rect x="632" y="586" width="2" height="18"/><rect x="631" y="592" width="4" height="11"/>
<rect x="637" y="558" width="2" height="39"/><rect x="636" y="575" width="4" height="18"/>
<rect x="641" y="565" width="2" height="14"/><rect x="640" y="566" width="4" height="8"/>
<rect x="646" y="560" width="2" height="14"/><rect x="645" y="565" width="4" height="9"/>
<rect x="651" y="557" width="2" height="16"/><rect x="650" y="557" width="4" height="15"/>
<rect x="655" y="557" width="2" height="20"/><rect x="654" y="558" width="4" height="18"/>
<rect x="660" y="566" width="2" height="17"/><rect x="659" y="570" width="4" height="7"/>
<rect x="664" y="570" width="2" height="16"/><rect x="663" y="571" width="4" height="15"/>
<rect x="669" y="584" width="2" height="20"/><rect x="668" y="586" width="4" height="17"/>
<rect x="674" y="581" width="2" height="22"/><rect x="673" y="587" width="4" height="16"/>
<rect x="678" y="584" width="2" height="9"/><rect x="677" y="586" width="4" height="3"/>
<rect x="683" y="582" width="2" height="34"/><rect x="682" y="589" width="4" height="20"/>
<rect x="687" y="608" width="2" height="15"/><rect x="686" y="609" width="4" height="2"/>
<rect x="692" y="612" width="2" height="27"/><rect x="691" y="612" width="4" height="17"/>
<rect x="697" y="618" width="2" height="25"/><rect x="696" y="620" width="4" height="21"/>
<rect x="701" y="621" width="2" height="27"/><rect x="700" y="641" width="4" height="2"/>
<rect x="706" y="606" width="2" height="99"/><rect x="705" y="644" width="4" height="45"/>
<rect x="710" y="689" width="2" height="29"/><rect x="709" y="692" width="4" height="4"/>
<rect x="715" y="688" width="2" height="59"/><rect x="714" y="698" width="4" height="20"/>
<rect x="720" y="692" width="2" height="31"/><rect x="719" y="694" width="4" height="26"/>
<rect x="724" y="677" width="2" height="30"/><rect x="723" y="686" width="4" height="8"/>
<rect x="729" y="677" width="2" height="21"/><rect x="728" y="678" width="4" height="9"/>
<rect x="733" y="669" width="2" height="13"/><rect x="732" y="677" width="4" height="3"/>
<rect x="738" y="648" width="2" height="42"/><rect x="737" y="673" width="4" height="9"/>
<rect x="743" y="662" width="2" height="17"/><rect x="742" y="672" width="4" height="5"/>
<rect x="747" y="666" width="2" height="20"/><rect x="746" y="677" width="4" height="3"/>
<rect x="752" y="652" width="2" height="44"/><rect x="751" y="663" width="4" height="27"/>
<rect x="756" y="658" width="2" height="41"/><rect x="755" y="662" width="4" height="32"/>
<rect x="761" y="659" width="2" height="38"/><rect x="760" y="671" width="4" height="19"/>
<rect x="766" y="652" width="2" height="21"/><rect x="765" y="653" width="4" height="18"/>
<rect x="770" y="642" width="2" height="23"/><rect x="769" y="649" width="4" height="5"/>
<rect x="775" y="648" width="2" height="13"/><rect x="774" y="649" width="4" height="7"/>
<rect x="779" y="654" width="2" height="16"/><rect x="778" y="655" width="4" height="7"/>
<rect x="784" y="658" width="2" height="17"/><rect x="783" y="660" width="4" height="13"/>
<rect x="789" y="666" width="2" height="23"/><rect x="788" y="667" width="4" height="6"/>
<rect x="793" y="664" width="2" height="45"/><rect x="792" y="667" width="4" height="42"/>
<rect x="798" y="706" width="2" height="22"/><rect x="797" y="708" width="4" height="6"/>
<rect x="802" y="700" width="2" height="22"/><rect x="801" y="709" width="4" height="7"/>
<rect x="807" y="672" width="2" height="42"/><rect x="806" y="678" width="4" height="33"/>
<rect x="812" y="656" width="2" height="23"/><rect x="811" y="659" width="4" height="17"/>
<rect x="816" y="651" width="2" height="18"/><rect x="815" y="661" width="4" height="3"/>
<rect x="821" y="661" width="2" height="9"/><rect x="820" y="661" width="4" height="8"/>
<rect x="826" y="661" width="2" height="13"/><rect x="825" y="665" width="4" height="8"/>
<rect x="830" y="664" width="2" height="32"/><rect x="829" y="670" width="4" height="25"/>
<rect x="835" y="693" width="2" height="13"/><rect x="834" y="695" width="4" height="4"/>
<rect x="839" y="687" width="2" height="14"/><rect x="838" y="690" width="4" height="10"/>
<rect x="844" y="679" width="2" height="19"/><rect x="843" y="682" width="4" height="11"/>
<rect x="849" y="682" width="2" height="6"/><rect x="848" y="683" width="4" height="3"/>
<rect x="853" y="684" width="2" height="22"/><rect x="852" y="688" width="4" height="16"/>
<rect x="858" y="695" width="2" height="12"/><rect x="857" y="704" width="4" height="3"/>
<rect x="862" y="682" width="2" height="39"/><rect x="861" y="690" width="4" height="15"/>
<rect x="867" y="628" width="2" height="70"/><rect x="866" y="638" width="4" height="52"/>
<rect x="872" y="636" width="2" height="16"/><rect x="871" y="638" width="4" height="9"/>
<rect x="876" y="644" width="2" height="34"/><rect x="875" y="644" width="4" height="29"/>
<rect x="881" y="662" width="2" height="31"/><rect x="880" y="672" width="4" height="11"/>
<rect x="885" y="680" width="2" height="16"/><rect x="884" y="682" width="4" height="7"/>
<rect x="890" y="669" width="2" height="36"/><rect x="889" y="687" width="4" height="9"/>
<rect x="895" y="692" width="2" height="62"/><rect x="894" y="697" width="4" height="55"/>
<rect x="899" y="740" width="2" height="30"/><rect x="898" y="752" width="4" height="4"/>
<rect x="904" y="750" width="2" height="59"/><rect x="903" y="757" width="4" height="28"/>
<rect x="908" y="770" width="2" height="21"/><rect x="907" y="788" width="4" height="3"/>
<rect x="913" y="792" width="2" height="27"/><rect x="912" y="793" width="4" height="24"/>
<rect x="918" y="807" width="2" height="53"/><rect x="917" y="814" width="4" height="24"/>
<rect x="922" y="828" width="2" height="58"/><rect x="921" y="840" width="4" height="7"/>
<rect x="927" y="832" width="2" height="25"/><rect x="926" y="843" width="4" height="11"/>
<rect x="931" y="845" width="2" height="17"/><rect x="930" y="851" width="4" height="5"/>
<rect x="936" y="836" width="2" height="22"/><rect x="935" y="837" width="4" height="20"/>
<rect x="941" y="808" width="2" height="30"/><rect x="940" y="835" width="4" height="2"/>
<rect x="945" y="828" width="2" height="24"/><rect x="944" y="837" width="4" height="10"/>
<rect x="950" y="818" width="2" height="34"/><rect x="949" y="827" width="4" height="19"/>
<rect x="954" y="826" width="2" height="11"/><rect x="953" y="827" width="4" height="8"/>
<rect x="959" y="825" width="2" height="17"/><rect x="958" y="831" width="4" height="4"/>
<rect x="964" y="818" width="2" height="19"/><rect x="963" y="831" width="4" height="4"/>
<rect x="968" y="829" width="2" height="13"/><rect x="967" y="834" width="4" height="4"/>
<rect x="973" y="834" width="2" height="24"/><rect x="972" y="838" width="4" height="2"/>
<rect x="977" y="834" width="2" height="37"/><rect x="976" y="838" width="4" height="26"/>
<rect x="982" y="846" width="2" height="20"/><rect x="981" y="856" width="4" height="9"/>
<rect x="987" y="839" width="2" height="44"/><rect x="986" y="848" width="4" height="6"/>
<rect x="991" y="833" width="2" height="17"/><rect x="990" y="834" width="4" height="15"/>
<rect x="996" y="818" width="2" height="23"/><rect x="995" y="819" width="4" height="13"/>
<rect x="1001" y="792" width="2" height="36"/><rect x="1000" y="807" width="4" height="14"/>
<rect x="1005" y="798" width="2" height="39"/><rect x="1004" y="807" width="4" height="4"/>
<rect x="1010" y="804" width="2" height="26"/><rect x="1009" y="811" width="4" height="4"/>
<rect x="1014" y="812" width="2" height="27"/><rect x="1013" y="817" width="4" height="9"/>
<rect x="1019" y="820" width="2" height="12"/><rect x="1018" y="826" width="4" height="5"/>
<rect x="1024" y="827" width="2" height="22"/><rect x="1023" y="829" width="4" height="19"/>
<rect x="1028" y="838" width="2" height="10"/><rect x="1027" y="842" width="4" height="2"/>
<rect x="1033" y="830" width="2" height="28"/><rect x="1032" y="832" width="4" height="13"/>
<rect x="1037" y="831" width="2" height="14"/><rect x="1036" y="833" width="4" height="8"/>
<rect x="1042" y="837" width="2" height="9"/><rect x="1041" y="840" width="4" height="2"/>
<rect x="1047" y="836" width="2" height="16"/><rect x="1046" y="842" width="4" height="4"/>
<rect x="1051" y="845" width="2" height="24"/><rect x="1050" y="847" width="4" height="19"/>
<rect x="1056" y="864" width="2" height="30"/><rect x="1055" y="864" width="4" height="24"/>
<rect x="1060" y="883" width="2" height="55"/><rect x="1059" y="887" width="4" height="36"/>
<rect x="1065" y="916" width="2" height="29"/><rect x="1064" y="923" width="4" height="14"/>
<rect x="1070" y="903" width="2" height="34"/><rect x="1069" y="910" width="4" height="27"/>
<rect x="1074" y="903" width="2" height="9"/><rect x="1073" y="906" width="4" height="2"/>
<rect x="1079" y="879" width="2" height="38"/><rect x="1078" y="885" width="4" height="21"/>
<rect x="1083" y="885" width="2" height="50"/><rect x="1082" y="888" width="4" height="35"/>
<rect x="1088" y="924" width="2" height="63"/><rect x="1087" y="925" width="4" height="48"/>
<rect x="1093" y="950" width="2" height="30"/><rect x="1092" y="969" width="4" height="6"/>
<rect x="1097" y="961" width="2" height="66"/><rect x="1096" y="974" width="4" height="4"/>
<rect x="1102" y="960" width="2" height="23"/><rect x="1101" y="967" width="4" height="13"/>
<rect x="1106" y="957" width="2" height="13"/><rect x="1105" y="963" width="4" height="4"/>
<rect x="1111" y="946" width="2" height="49"/><rect x="1110" y="963" width="4" height="4"/>
<rect x="1116" y="929" width="2" height="45"/><rect x="1115" y="935" width="4" height="32"/>
<rect x="1120" y="935" width="2" height="27"/><rect x="1119" y="937" width="4" height="25"/>
<rect x="1125" y="942" width="2" height="32"/><rect x="1124" y="960" width="4" height="14"/>
<rect x="1129" y="951" width="2" height="26"/><rect x="1128" y="952" width="4" height="22"/>
<rect x="1134" y="937" width="2" height="23"/><rect x="1133" y="944" width="4" height="10"/>
<rect x="1139" y="923" width="2" height="43"/><rect x="1138" y="940" width="4" height="10"/>
<rect x="1143" y="932" width="2" height="18"/><rect x="1142" y="945" width="4" height="3"/>
<rect x="1148" y="937" width="2" height="14"/><rect x="1147" y="939" width="4" height="6"/>
<rect x="1152" y="933" width="2" height="10"/><rect x="1151" y="937" width="4" height="2"/>
<rect x="1157" y="939" width="2" height="10"/><rect x="1156" y="942" width="4" height="2"/>
<rect x="1162" y="923" width="2" height="27"/><rect x="1161" y="933" width="4" height="14"/>
<rect x="1166" y="926" width="2" height="22"/><rect x="1165" y="933" width="4" height="14"/>
<rect x="1171" y="944" width="2" height="21"/><rect x="1170" y="945" width="4" height="16"/>
<rect x="1176" y="945" width="2" height="25"/><rect x="1175" y="948" width="4" height="14"/>
<rect x="1180" y="939" width="2" height="11"/><rect x="1179" y="943" width="4" height="6"/>
<rect x="1185" y="933" width="2" height="13"/><rect x="1184" y="938" width="4" height="6"/>
<rect x="1189" y="932" width="2" height="8"/><rect x="1188" y="935" width="4" height="3"/>
<rect x="1194" y="914" width="2" height="27"/><rect x="1193" y="921" width="4" height="14"/>
<rect x="1199" y="918" width="2" height="11"/><rect x="1198" y="920" width="4" height="8"/>
<rect x="1203" y="926" width="2" height="11"/><rect x="1202" y="927" width="4" height="7"/>
<rect x="1208" y="930" width="2" height="14"/><rect x="1207" y="933" width="4" height="4"/>
<rect x="1212" y="928" width="2" height="10"/><rect x="1211" y="933" width="4" height="2"/>
<rect x="1217" y="928" width="2" height="12"/><rect x="1216" y="935" width="4" height="2"/>
<rect x="1222" y="933" width="2" height="7"/><rect x="1221" y="934" width="4" height="5"/>
<rect x="1226" y="933" width="2" height="10"/><rect x="1225" y="935" width="4" height="8"/>
<rect x="1231" y="926" width="2" height="16"/><rect x="1230" y="937" width="4" height="4"/>
<rect x="1235" y="935" width="2" height="18"/><rect x="1234" y="937" width="4" height="15"/>
<rect x="1240" y="945" width="2" height="6"/><rect x="1239" y="946" width="4" height="3"/>
<rect x="1245" y="944" width="2" height="24"/><rect x="1244" y="946" width="4" height="21"/>
<rect x="1249" y="963" width="2" height="13"/><rect x="1248" y="966" width="4" height="2"/>
<rect x="1254" y="956" width="2" height="24"/><rect x="1253" y="970" width="4" height="8"/>
<rect x="1258" y="969" width="2" height="9"/><rect x="1257" y="973" width="4" height="2"/>
<rect x="1263" y="938" width="2" height="34"/><rect x="1262" y="938" width="4" height="34"/>
<rect x="1268" y="934" width="2" height="12"/><rect x="1267" y="938" width="4" height="2"/>
<rect x="1272" y="928" width="2" height="11"/><rect x="1271" y="934" width="4" height="4"/>
<rect x="1277" y="918" width="2" height="32"/><rect x="1276" y="918" width="4" height="21"/>
<rect x="1281" y="916" width="2" height="27"/><rect x="1280" y="920" width="4" height="18"/>
<rect x="1286" y="911" width="2" height="15"/><rect x="1285" y="920" width="4" height="2"/>
<rect x="1291" y="920" width="2" height="34"/><rect x="1290" y="921" width="4" height="31"/>
<rect x="1295" y="949" width="2" height="11"/><rect x="1294" y="950" width="4" height="6"/>
<rect x="1300" y="945" width="2" height="12"/><rect x="1299" y="954" width="4" height="2"/>
<rect x="1304" y="952" width="2" height="14"/><rect x="1303" y="953" width="4" height="13"/>
<rect x="1309" y="960" width="2" height="9"/><rect x="1308" y="960" width="4" height="6"/>
<rect x="1314" y="948" width="2" height="14"/><rect x="1313" y="949" width="4" height="11"/>
<rect x="1318" y="938" width="2" height="11"/><rect x="1317" y="944" width="4" height="4"/>
<rect x="1323" y="940" width="2" height="14"/><rect x="1322" y="943" width="4" height="11"/>
<rect x="1327" y="929" width="2" height="25"/><rect x="1326" y="933" width="4" height="20"/>
<rect x="1332" y="924" width="2" height="16"/><rect x="1331" y="924" width="4" height="9"/>
<rect x="1337" y="921" width="2" height="19"/><rect x="1336" y="923" width="4" height="3"/>
<rect x="1341" y="875" width="2" height="49"/><rect x="1340" y="881" width="4" height="42"/>
<rect x="1346" y="871" width="2" height="23"/><rect x="1345" y="881" width="4" height="12"/>
<rect x="1351" y="882" width="2" height="12"/><rect x="1350" y="889" width="4" height="4"/>
<rect x="1355" y="874" width="2" height="21"/><rect x="1354" y="889" width="4" height="3"/>
<rect x="1360" y="876" width="2" height="22"/><rect x="1359" y="892" width="4" height="3"/>
<rect x="1364" y="890" width="2" height="22"/><rect x="1363" y="894" width="4" height="12"/>
<rect x="1369" y="904" width="2" height="24"/><rect x="1368" y="905" width="4" height="15"/>
<rect x="1374" y="912" width="2" height="13"/><rect x="1373" y="920" width="4" height="4"/>
<rect x="1378" y="920" width="2" height="12"/><rect x="1377" y="922" width="4" height="8"/>
<rect x="1383" y="928" width="2" height="12"/><rect x="1382" y="930" width="4" height="7"/>
<rect x="1387" y="927" width="2" height="17"/><rect x="1386" y="933" width="4" height="2"/>
<rect x="1392" y="928" width="2" height="10"/><rect x="1391" y="931" width="4" height="5"/>
<rect x="1397" y="928" width="2" height="12"/><rect x="1396" y="932" width="4" height="7"/>
<rect x="1401" y="926" width="2" height="14"/><rect x="1400" y="927" width="4" height="12"/>
<rect x="1406" y="916" width="2" height="13"/><rect x="1405" y="922" width="4" height="6"/>
<rect x="1410" y="920" width="2" height="9"/><rect x="1409" y="921" width="4" height="3"/>
<rect x="1415" y="920" width="2" height="16"/><rect x="1414" y="922" width="4" height="11"/>
<rect x="1420" y="916" width="2" height="17"/><rect x="1419" y="920" width="4" height="12"/>
<rect x="1424" y="918" width="2" height="14"/><rect x="1423" y="920" width="4" height="10"/>
<rect x="1429" y="915" width="2" height="16"/><rect x="1428" y="916" width="4" height="13"/>
<rect x="1433" y="915" width="2" height="13"/><rect x="1432" y="916" width="4" height="10"/>
<rect x="1438" y="922" width="2" height="7"/><rect x="1437" y="924" width="4" height="4"/>
<rect x="1443" y="926" width="2" height="11"/><rect x="1442" y="927" width="4" height="9"/>
<rect x="1447" y="933" width="2" height="13"/><rect x="1446" y="934" width="4" height="10"/>
<rect x="1452" y="932" width="2" height="14"/><rect x="1451" y="934" width="4" height="10"/>
<rect x="1456" y="924" width="2" height="15"/><rect x="1455" y="926" width="4" height="9"/>
<rect x="1461" y="905" width="2" height="21"/><rect x="1460" y="906" width="4" height="20"/>
<rect x="1466" y="897" width="2" height="11"/><rect x="1465" y="904" width="4" height="2"/>
<rect x="1470" y="903" width="2" height="15"/><rect x="1469" y="905" width="4" height="2"/>
<rect x="1475" y="843" width="2" height="66"/><rect x="1474" y="852" width="4" height="56"/>
<rect x="1479" y="824" width="2" height="30"/><rect x="1478" y="843" width="4" height="10"/>
<rect x="1484" y="823" width="2" height="25"/><rect x="1483" y="842" width="4" height="3"/>
<rect x="1489" y="826" width="2" height="22"/><rect x="1488" y="833" width="4" height="11"/>
<rect x="1493" y="771" width="2" height="71"/><rect x="1492" y="812" width="4" height="21"/>
<rect x="1498" y="785" width="2" height="29"/><rect x="1497" y="796" width="4" height="14"/>
<rect x="1503" y="766" width="2" height="41"/><rect x="1502" y="780" width="4" height="16"/>
<rect x="1507" y="769" width="2" height="12"/><rect x="1506" y="775" width="4" height="5"/>
<rect x="1512" y="761" width="2" height="32"/><rect x="1511" y="770" width="4" height="20"/>
<rect x="1516" y="761" width="2" height="29"/><rect x="1515" y="768" width="4" height="22"/>
<rect x="1521" y="759" width="2" height="20"/><rect x="1520" y="763" width="4" height="5"/>
<rect x="1526" y="757" width="2" height="36"/><rect x="1525" y="766" width="4" height="23"/>
<rect x="1530" y="765" width="2" height="25"/><rect x="1529" y="768" width="4" height="22"/>
<rect x="1535" y="761" width="2" height="30"/><rect x="1534" y="767" width="4" height="22"/>
<rect x="1539" y="758" width="2" height="32"/><rect x="1538" y="764" width="4" height="25"/>
<rect x="1544" y="737" width="2" height="31"/><rect x="1543" y="759" width="4" height="2"/>
<rect x="1549" y="759" width="2" height="24"/><rect x="1548" y="762" width="4" height="19"/>
<rect x="1553" y="763" width="2" height="22"/><rect x="1552" y="778" width="4" height="5"/>
<rect x="1558" y="748" width="2" height="31"/><rect x="1557" y="763" width="4" height="15"/>
<rect x="1562" y="761" width="2" height="24"/><rect x="1561" y="763" width="4" height="17"/>
<rect x="1567" y="777" width="2" height="20"/><rect x="1566" y="781" width="4" height="15"/>
<rect x="1572" y="793" width="2" height="42"/><rect x="1571" y="795" width="4" height="39"/>
<rect x="1576" y="831" width="2" height="17"/><rect x="1575" y="835" width="4" height="6"/>
<rect x="1581" y="840" width="2" height="27"/><rect x="1580" y="841" width="4" height="14"/>
<rect x="1585" y="852" width="2" height="21"/><rect x="1584" y="855" width="4" height="17"/>
<rect x="1590" y="852" width="2" height="21"/><rect x="1589" y="855" width="4" height="17"/>
<rect x="1595" y="841" width="2" height="20"/><rect x="1594" y="854" width="4" height="3"/>
<rect x="1599" y="853" width="2" height="33"/><rect x="1598" y="857" width="4" height="26"/>
<rect x="1604" y="878" width="2" height="36"/><rect x="1603" y="882" width="4" height="28"/>
<rect x="1608" y="896" width="2" height="18"/><rect x="1607" y="908" width="4" height="2"/>
<rect x="1613" y="905" width="2" height="21"/><rect x="1612" y="906" width="4" height="11"/>
<rect x="1618" y="916" width="2" height="12"/><rect x="1617" y="918" width="4" height="4"/>
<rect x="1622" y="910" width="2" height="22"/><rect x="1621" y="917" width="4" height="5"/>
<rect x="1627" y="894" width="2" height="22"/><rect x="1626" y="898" width="4" height="18"/>
<rect x="1631" y="897" width="2" height="20"/><rect x="1630" y="898" width="4" height="16"/>
<rect x="1636" y="908" width="2" height="16"/><rect x="1635" y="912" width="4" height="3"/>
<rect x="1641" y="900" width="2" height="32"/><rect x="1640" y="913" width="4" height="2"/>
<rect x="1645" y="909" width="2" height="20"/><rect x="1644" y="913" width="4" height="2"/>
<rect x="1650" y="903" width="2" height="27"/><rect x="1649" y="911" width="4" height="9"/>
<rect x="1654" y="906" width="2" height="18"/><rect x="1653" y="920" width="4" height="3"/>
<rect x="1659" y="914" width="2" height="23"/><rect x="1658" y="917" width="4" height="11"/>
<rect x="1664" y="908" width="2" height="30"/><rect x="1663" y="914" width="4" height="14"/>
<rect x="1668" y="912" width="2" height="16"/><rect x="1667" y="914" width="4" height="2"/>
<rect x="1673" y="914" width="2" height="11"/><rect x="1672" y="916" width="4" height="4"/>
<rect x="1678" y="913" width="2" height="13"/><rect x="1677" y="915" width="4" height="5"/>
<rect x="1682" y="908" width="2" height="10"/><rect x="1681" y="912" width="4" height="2"/>
<rect x="1687" y="873" width="2" height="43"/><rect x="1686" y="881" width="4" height="29"/>
<rect x="1691" y="871" width="2" height="40"/><rect x="1690" y="880" width="4" height="30"/>
<rect x="1696" y="877" width="2" height="28"/><rect x="1695" y="880" width="4" height="23"/>
<rect x="1701" y="900" width="2" height="18"/><rect x="1700" y="903" width="4" height="11"/>
<rect x="1705" y="912" width="2" height="23"/><rect x="1704" y="914" width="4" height="12"/>
<rect x="1710" y="924" width="2" height="33"/><rect x="1709" y="926" width="4" height="20"/>
<rect x="1714" y="918" width="2" height="29"/><rect x="1713" y="930" width="4" height="16"/>
<rect x="1719" y="909" width="2" height="30"/><rect x="1718" y="920" width="4" height="12"/>
<rect x="1724" y="912" width="2" height="23"/><rect x="1723" y="920" width="4" height="8"/>
<rect x="1728" y="912" width="2" height="65"/><rect x="1727" y="928" width="4" height="26"/>
<rect x="1733" y="940" width="2" height="20"/><rect x="1732" y="948" width="4" height="9"/>
<rect x="1737" y="939" width="2" height="16"/><rect x="1736" y="948" width="4" height="2"/>
<rect x="1742" y="949" width="2" height="25"/><rect x="1741" y="950" width="4" height="15"/>
<rect x="1747" y="962" width="2" height="18"/><rect x="1746" y="965" width="4" height="2"/>
<rect x="1751" y="951" width="2" height="26"/><rect x="1750" y="965" width="4" height="2"/>
<rect x="1756" y="960" width="2" height="8"/><rect x="1755" y="963" width="4" height="3"/>
<rect x="1760" y="960" width="2" height="18"/><rect x="1759" y="962" width="4" height="9"/>
<rect x="1765" y="954" width="2" height="22"/><rect x="1764" y="955" width="4" height="17"/>
<rect x="1770" y="944" width="2" height="42"/><rect x="1769" y="955" width="4" height="23"/>
<rect x="1774" y="935" width="2" height="45"/><rect x="1773" y="950" width="4" height="29"/>
<rect x="1779" y="927" width="2" height="23"/><rect x="1778" y="928" width="4" height="22"/>
<rect x="1783" y="926" width="2" height="11"/><rect x="1782" y="927" width="4" height="7"/>
<rect x="1788" y="922" width="2" height="7"/><rect x="1787" y="925" width="4" height="2"/>
<rect x="1793" y="924" width="2" height="6"/><rect x="1792" y="926" width="4" height="3"/>
<rect x="1797" y="927" width="2" height="8"/><rect x="1796" y="928" width="4" height="6"/>
<rect x="1802" y="928" width="2" height="11"/><rect x="1801" y="932" width="4" height="6"/>
<rect x="1806" y="936" width="2" height="15"/><rect x="1805" y="938" width="4" height="12"/>
<rect x="1811" y="940" width="2" height="10"/><rect x="1810" y="941" width="4" height="8"/>
<rect x="1816" y="939" width="2" height="7"/><rect x="1815" y="941" width="4" height="3"/>
<rect x="1820" y="938" width="2" height="11"/><rect x="1819" y="940" width="4" height="7"/>
<rect x="1825" y="940" width="2" height="10"/><rect x="1824" y="944" width="4" height="4"/>
<rect x="1829" y="946" width="2" height="27"/><rect x="1828" y="947" width="4" height="21"/>
<rect x="1834" y="968" width="2" height="47"/><rect x="1833" y="969" width="4" height="32"/>
<rect x="1839" y="1000" width="2" height="29"/><rect x="1838" y="1001" width="4" height="15"/>
<rect x="1843" y="997" width="2" height="35"/><rect x="1842" y="1014" width="4" height="14"/>
<rect x="1848" y="1018" width="2" height="64"/><rect x="1847" y="1026" width="4" height="38"/>
<rect x="1853" y="1041" width="2" height="25"/><rect x="1852" y="1062" width="4" height="2"/>
<rect x="1857" y="995" width="2" height="72"/><rect x="1856" y="1025" width="4" height="40"/>
<rect x="1862" y="1011" width="2" height="27"/><rect x="1861" y="1026" width="4" height="5"/>
<rect x="1866" y="1012" width="2" height="19"/><rect x="1865" y="1018" width="4" height="12"/>
<rect x="1871" y="995" width="2" height="28"/><rect x="1870" y="1008" width="4" height="12"/>
<rect x="1876" y="1004" width="2" height="18"/><rect x="1875" y="1006" width="4" height="12"/>
<rect x="1880" y="996" width="2" height="31"/><rect x="1879" y="997" width="4" height="21"/>
<rect x="1885" y="995" width="2" height="28"/><rect x="1884" y="997" width="4" height="23"/>
<rect x="1889" y="1019" width="2" height="43"/><rect x="1888" y="1020" width="4" height="22"/>
<rect x="1894" y="1032" width="2" height="22"/><rect x="1893" y="1040" width="4" height="2"/>
<rect x="1899" y="1034" width="2" height="40"/><rect x="1898" y="1036" width="4" height="20"/>
<rect x="1903" y="1023" width="2" height="34"/><rect x="1902" y="1030" width="4" height="25"/>
<rect x="1908" y="1024" width="2" height="35"/><rect x="1907" y="1031" width="4" height="22"/>
<rect x="1912" y="1028" width="2" height="31"/><rect x="1911" y="1029" width="4" height="24"/>
<rect x="1917" y="975" width="2" height="64"/><rect x="1916" y="977" width="4" height="61"/>
<rect x="1922" y="957" width="2" height="22"/><rect x="1921" y="968" width="4" height="10"/>
<rect x="1926" y="967" width="2" height="33"/><rect x="1925" y="968" width="4" height="29"/>
<rect x="1931" y="981" width="2" height="17"/><rect x="1930" y="993" width="4" height="2"/>
<rect x="1935" y="984" width="2" height="13"/><rect x="1934" y="991" width="4" height="4"/>
<rect x="1940" y="980" width="2" height="49"/><rect x="1939" y="990" width="4" height="34"/>
<rect x="1945" y="1005" width="2" height="27"/><rect x="1944" y="1006" width="4" height="18"/>
<rect x="1949" y="994" width="2" height="15"/><rect x="1948" y="1000" width="4" height="7"/>
<rect x="1954" y="978" width="2" height="22"/><rect x="1953" y="979" width="4" height="15"/>
<rect x="1958" y="968" width="2" height="14"/><rect x="1957" y="970" width="4" height="11"/>
<rect x="1963" y="963" width="2" height="18"/><rect x="1962" y="972" width="4" height="8"/>
<rect x="1968" y="972" width="2" height="16"/><rect x="1967" y="977" width="4" height="3"/>
<rect x="1972" y="964" width="2" height="16"/><rect x="1971" y="971" width="4" height="8"/>
<rect x="1977" y="960" width="2" height="12"/><rect x="1976" y="967" width="4" height="2"/>
<rect x="1981" y="966" width="2" height="11"/><rect x="1980" y="968" width="4" height="7"/>
<rect x="1986" y="956" width="2" height="23"/><rect x="1985" y="957" width="4" height="21"/>
<rect x="1991" y="941" width="2" height="17"/><rect x="1990" y="953" width="4" height="4"/>
<rect x="1995" y="929" width="2" height="39"/><rect x="1994" y="930" width="4" height="26"/>
<rect x="2000" y="930" width="2" height="20"/><rect x="1999" y="932" width="4" height="11"/>
<rect x="2004" y="935" width="2" height="6"/><rect x="2003" y="938" width="4" height="2"/>
<rect x="2009" y="932" width="2" height="12"/><rect x="2008" y="935" width="4" height="2"/>
<rect x="2014" y="936" width="2" height="13"/><rect x="2013" y="938" width="4" height="9"/>
<rect x="2018" y="935" width="2" height="15"/><rect x="2017" y="939" width="4" height="10"/>
<rect x="2023" y="944" width="2" height="24"/><rect x="2022" y="946" width="4" height="21"/>
<rect x="2028" y="935" width="2" height="44"/><rect x="2027" y="964" width="4" height="13"/>
<rect x="2032" y="963" width="2" height="26"/><rect x="2031" y="964" width="4" height="14"/>
<rect x="2037" y="952" width="2" height="22"/><rect x="2036" y="963" width="4" height="10"/>
<rect x="2041" y="957" width="2" height="31"/><rect x="2040" y="959" width="4" height="20"/>
<rect x="2046" y="951" width="2" height="30"/><rect x="2045" y="956" width="4" height="24"/>
<rect x="2051" y="943" width="2" height="37"/><rect x="2050" y="955" width="4" height="24"/>
<rect x="2055" y="959" width="2" height="23"/><rect x="2054" y="960" width="4" height="20"/>
<rect x="2060" y="963" width="2" height="17"/><rect x="2059" y="964" width="4" height="15"/>
<rect x="2064" y="967" width="2" height="18"/><rect x="2063" y="968" width="4" height="10"/>
<rect x="2069" y="953" width="2" height="17"/><rect x="2068" y="955" width="4" height="13"/>
<rect x="2074" y="935" width="2" height="22"/><rect x="2073" y="950" width="4" height="6"/>
<rect x="2078" y="934" width="2" height="34"/><rect x="2077" y="949" width="4" height="19"/>
<rect x="2083" y="961" width="2" height="16"/><rect x="2082" y="967" width="4" height="8"/>
<rect x="2087" y="970" width="2" height="13"/><rect x="2086" y="973" width="4" height="4"/>
<rect x="2092" y="968" width="2" height="12"/><rect x="2091" y="972" width="4" height="7"/>
<rect x="2097" y="972" width="2" height="15"/><rect x="2096" y="973" width="4" height="13"/>
<rect x="2101" y="975" width="2" height="17"/><rect x="2100" y="978" width="4" height="5"/>
<rect x="2106" y="967" width="2" height="19"/><rect x="2105" y="977" width="4" height="2"/>
<rect x="2110" y="966" width="2" height="37"/><rect x="2109" y="978" width="4" height="2"/>
<rect x="2115" y="977" width="2" height="15"/><rect x="2114" y="980" width="4" height="10"/>
<rect x="2120" y="983" width="2" height="12"/><rect x="2119" y="989" width="4" height="2"/>
<rect x="2124" y="977" width="2" height="16"/><rect x="2123" y="981" width="4" height="10"/>
<rect x="2129" y="978" width="2" height="12"/><rect x="2128" y="980" width="4" height="8"/>
<rect x="2133" y="979" width="2" height="15"/><rect x="2132" y="983" width="4" height="3"/>
<rect x="2138" y="968" width="2" height="21"/><rect x="2137" y="984" width="4" height="2"/>
<rect x="2143" y="978" width="2" height="10"/><rect x="2142" y="983" width="4" height="2"/>
<rect x="2147" y="983" width="2" height="7"/><rect x="2146" y="985" width="4" height="3"/>
<rect x="2152" y="972" width="2" height="14"/><rect x="2151" y="973" width="4" height="12"/>
<rect x="2156" y="959" width="2" height="14"/><rect x="2155" y="969" width="4" height="3"/>
<rect x="2161" y="964" width="2" height="14"/><rect x="2160" y="966" width="4" height="11"/>
<rect x="2166" y="966" width="2" height="15"/><rect x="2165" y="975" width="4" height="5"/>
<rect x="2170" y="977" width="2" height="11"/><rect x="2169" y="978" width="4" height="5"/>
<rect x="2175" y="971" width="2" height="17"/><rect x="2174" y="972" width="4" height="14"/>
<rect x="2179" y="968" width="2" height="11"/><rect x="2178" y="969" width="4" height="8"/>
<rect x="2184" y="968" width="2" height="11"/><rect x="2183" y="969" width="4" height="9"/>
<rect x="2189" y="963" width="2" height="17"/><rect x="2188" y="964" width="4" height="15"/>
<rect x="2193" y="961" width="2" height="16"/><rect x="2192" y="962" width="4" height="14"/>
<rect x="2198" y="962" width="2" height="5"/><rect x="2197" y="963" width="4" height="3"/>
<rect x="2203" y="934" width="2" height="32"/><rect x="2202" y="940" width="4" height="23"/>
<rect x="2207" y="926" width="2" height="27"/><rect x="2206" y="942" width="4" height="8"/>
<rect x="2212" y="946" width="2" height="28"/><rect x="2211" y="947" width="4" height="23"/>
<rect x="2216" y="963" width="2" height="8"/><rect x="2215" y="964" width="4" height="5"/>
<rect x="2221" y="953" width="2" height="14"/><rect x="2220" y="954" width="4" height="12"/>
<rect x="2226" y="949" width="2" height="9"/><rect x="2225" y="953" width="4" height="3"/>
<rect x="2230" y="937" width="2" height="20"/><rect x="2229" y="951" width="4" height="4"/>
<rect x="2235" y="934" width="2" height="20"/><rect x="2234" y="938" width="4" height="11"/>
<rect x="2239" y="932" width="2" height="17"/><rect x="2238" y="937" width="4" height="10"/>
<rect x="2244" y="915" width="2" height="28"/><rect x="2243" y="930" width="4" height="12"/>
<rect x="2249" y="926" width="2" height="28"/><rect x="2248" y="930" width="4" height="17"/>
<rect x="2253" y="941" width="2" height="8"/><rect x="2252" y="945" width="4" height="2"/>
<rect x="2258" y="938" width="2" height="19"/><rect x="2257" y="942" width="4" height="4"/>
<rect x="2262" y="926" width="2" height="29"/><rect x="2261" y="929" width="4" height="14"/>
<rect x="2267" y="926" width="2" height="14"/><rect x="2266" y="927" width="4" height="4"/>
<rect x="2272" y="892" width="2" height="41"/><rect x="2271" y="910" width="4" height="22"/>
<rect x="2276" y="901" width="2" height="24"/><rect x="2275" y="906" width="4" height="4"/>
<rect x="2281" y="880" width="2" height="32"/><rect x="2280" y="883" width="4" height="26"/>
<rect x="2285" y="869" width="2" height="21"/><rect x="2284" y="870" width="4" height="14"/>
<rect x="2290" y="859" width="2" height="13"/><rect x="2289" y="864" width="4" height="6"/>
<rect x="2295" y="859" width="2" height="20"/><rect x="2294" y="865" width="4" height="2"/>
<rect x="2299" y="852" width="2" height="42"/><rect x="2298" y="866" width="4" height="12"/>
<rect x="2304" y="865" width="2" height="18"/><rect x="2303" y="878" width="4" height="2"/>
<rect x="2308" y="872" width="2" height="14"/><rect x="2307" y="878" width="4" height="3"/>
<rect x="2313" y="880" width="2" height="26"/><rect x="2312" y="881" width="4" height="24"/>
<rect x="2318" y="896" width="2" height="19"/><rect x="2317" y="904" width="4" height="10"/>
<rect x="2322" y="908" width="2" height="18"/><rect x="2321" y="911" width="4" height="2"/>
<rect x="2327" y="880" width="2" height="38"/><rect x="2326" y="883" width="4" height="32"/>
<rect x="2331" y="873" width="2" height="41"/><rect x="2330" y="881" width="4" height="24"/>
<rect x="2336" y="881" width="2" height="14"/><rect x="2335" y="883" width="4" height="9"/>
<rect x="2341" y="876" width="2" height="22"/><rect x="2340" y="883" width="4" height="8"/>
<rect x="2345" y="864" width="2" height="27"/><rect x="2344" y="868" width="4" height="22"/>
<rect x="2350" y="831" width="2" height="39"/><rect x="2349" y="855" width="4" height="14"/>
<rect x="2355" y="846" width="2" height="26"/><rect x="2354" y="853" width="4" height="17"/>
<rect x="2359" y="850" width="2" height="28"/><rect x="2358" y="853" width="4" height="19"/>
<rect x="2364" y="853" width="2" height="38"/><rect x="2363" y="855" width="4" height="17"/>
<rect x="2368" y="821" width="2" height="52"/><rect x="2367" y="841" width="4" height="31"/>
<rect x="2373" y="813" width="2" height="31"/><rect x="2372" y="822" width="4" height="17"/>
<rect x="2378" y="813" width="2" height="37"/><rect x="2377" y="822" width="4" height="27"/>
<rect x="2382" y="835" width="2" height="18"/><rect x="2381" y="836" width="4" height="13"/>
<rect x="2387" y="830" width="2" height="12"/><rect x="2386" y="834" width="4" height="4"/>
<rect x="2391" y="832" width="2" height="17"/><rect x="2390" y="833" width="4" height="6"/>
<rect x="2396" y="832" width="2" height="31"/><rect x="2395" y="839" width="4" height="13"/>
<rect x="2401" y="852" width="2" height="24"/><rect x="2400" y="853" width="4" height="18"/>
<rect x="2405" y="859" width="2" height="13"/><rect x="2404" y="860" width="4" height="11"/>
<rect x="2410" y="866" width="2" height="32"/><rect x="2409" y="867" width="4" height="26"/>
<rect x="2414" y="887" width="2" height="16"/><rect x="2413" y="891" width="4" height="4"/>
<rect x="2419" y="879" width="2" height="17"/><rect x="2418" y="891" width="4" height="4"/>
<rect x="2424" y="891" width="2" height="24"/><rect x="2423" y="892" width="4" height="2"/>
<rect x="2428" y="864" width="2" height="31"/><rect x="2427" y="866" width="4" height="28"/>
<rect x="2433" y="855" width="2" height="25"/><rect x="2432" y="870" width="4" height="2"/>
<rect x="2437" y="864" width="2" height="33"/><rect x="2436" y="869" width="4" height="22"/>
<rect x="2442" y="644" width="2" height="254"/><rect x="2441" y="683" width="4" height="208"/>
<rect x="2447" y="576" width="2" height="113"/><rect x="2446" y="585" width="4" height="95"/>
<rect x="2451" y="570" width="2" height="61"/><rect x="2450" y="586" width="4" height="19"/>
<rect x="2456" y="602" width="2" height="52"/><rect x="2455" y="605" width="4" height="22"/>
<rect x="2460" y="584" width="2" height="68"/><rect x="2459" y="625" width="4" height="19"/>
<rect x="2465" y="633" width="2" height="66"/><rect x="2464" y="644" width="4" height="41"/>
<rect x="2470" y="680" width="2" height="33"/><rect x="2469" y="686" width="4" height="13"/>
<rect x="2474" y="693" width="2" height="27"/><rect x="2473" y="698" width="4" height="17"/>
<rect x="2479" y="707" width="2" height="31"/><rect x="2478" y="714" width="4" height="9"/>
<rect x="2483" y="685" width="2" height="44"/><rect x="2482" y="697" width="4" height="26"/>
<rect x="2488" y="680" width="2" height="37"/><rect x="2487" y="697" width="4" height="2"/>
<rect x="2493" y="698" width="2" height="37"/><rect x="2492" y="699" width="4" height="20"/>
<rect x="2497" y="695" width="2" height="30"/><rect x="2496" y="698" width="4" height="23"/>
<rect x="2502" y="668" width="2" height="31"/><rect x="2501" y="677" width="4" height="22"/>
<rect x="2506" y="676" width="2" height="24"/><rect x="2505" y="678" width="4" height="21"/>
<rect x="2511" y="682" width="2" height="20"/><rect x="2510" y="688" width="4" height="12"/>
<rect x="2516" y="678" width="2" height="24"/><rect x="2515" y="688" width="4" height="2"/>
<rect x="2520" y="683" width="2" height="13"/><rect x="2519" y="687" width="4" height="2"/>
</g>
<g id="price-axis">
<text x="2557.2" y="134.4" font-size="25.5" fill="#131722" textLength="95.4" lengthAdjust="spacing" stroke="#131722" stroke-width="0.25">0.05000</text>
<text x="2557.2" y="201.4" font-size="25.5" fill="#131722" textLength="95.4" lengthAdjust="spacing" stroke="#131722" stroke-width="0.25">0.04500</text>
<text x="2557.2" y="292.4" font-size="25.5" fill="#131722" textLength="95.4" lengthAdjust="spacing" stroke="#131722" stroke-width="0.25">0.03900</text>
<text x="2557.2" y="361.4" font-size="25.5" fill="#131722" textLength="95.4" lengthAdjust="spacing" stroke="#131722" stroke-width="0.25">0.03500</text>
<text x="2557.2" y="438.4" font-size="25.5" fill="#131722" textLength="95.4" lengthAdjust="spacing" stroke="#131722" stroke-width="0.25">0.03100</text>
<text x="2557.2" y="526.4" font-size="25.5" fill="#131722" textLength="95.4" lengthAdjust="spacing" stroke="#131722" stroke-width="0.25">0.02700</text>
<text x="2557.2" y="601.4" font-size="25.5" fill="#131722" textLength="95.4" lengthAdjust="spacing" stroke="#131722" stroke-width="0.25">0.02400</text>
<text x="2557.2" y="686.4" font-size="25.5" fill="#131722" textLength="95.4" lengthAdjust="spacing" stroke="#131722" stroke-width="0.25">0.02100</text>
<text x="2557.2" y="750.4" font-size="25.5" fill="#131722" textLength="95.4" lengthAdjust="spacing" stroke="#131722" stroke-width="0.25">0.01900</text>
<text x="2557.2" y="820.4" font-size="25.5" fill="#131722" textLength="95.4" lengthAdjust="spacing" stroke="#131722" stroke-width="0.25">0.01700</text>
<text x="2557.2" y="900.4" font-size="25.5" fill="#131722" textLength="95.4" lengthAdjust="spacing" stroke="#131722" stroke-width="0.25">0.01500</text>
<text x="2557.2" y="967.4" font-size="25.5" fill="#131722" textLength="95.4" lengthAdjust="spacing" stroke="#131722" stroke-width="0.25">0.01350</text>
<text x="2557.2" y="1042.4" font-size="25.5" fill="#131722" textLength="95.4" lengthAdjust="spacing" stroke="#131722" stroke-width="0.25">0.01200</text>
<text x="2557.2" y="1109.4" font-size="25.5" fill="#131722" textLength="95.4" lengthAdjust="spacing" stroke="#131722" stroke-width="0.25">0.01080</text>
<text x="2557.2" y="1171.4" font-size="25.5" fill="#131722" textLength="95.4" lengthAdjust="spacing" stroke="#131722" stroke-width="0.25">0.00980</text>
<rect x="2540" y="100" width="148" height="22" fill="#ffffff"/>
</g>
<g id="price-labels">
<path d="M2540,234.0 H2660 a4,4 0 0 1 4,4 V264.0 a4,4 0 0 1 -4,4 H2540 Z" fill="#2962ff"/>
<text x="2557.2" y="259.5" font-size="25.5" fill="#ffffff" textLength="95.4" lengthAdjust="spacing" stroke="#ffffff" stroke-width="0.25">0.04100</text>
<path d="M2540,487.0 H2660 a4,4 0 0 1 4,4 V517.0 a4,4 0 0 1 -4,4 H2540 Z" fill="#2962ff"/>
<text x="2557.2" y="512.5" font-size="25.5" fill="#ffffff" textLength="95.4" lengthAdjust="spacing" stroke="#ffffff" stroke-width="0.25">0.02759</text>
<path d="M2540,553.0 H2660 a4,4 0 0 1 4,4 V583.0 a4,4 0 0 1 -4,4 H2540 Z" fill="#2962ff"/>
<text x="2557.2" y="578.5" font-size="25.5" fill="#ffffff" textLength="95.4" lengthAdjust="spacing" stroke="#ffffff" stroke-width="0.25">0.02484</text>
<rect x="2540" y="671" width="124" height="66" fill="#ffffff"/>
<text x="2557.2" y="696.1" font-size="25.5" fill="#000000" textLength="95.4" lengthAdjust="spacing" stroke="#000000" stroke-width="0.25">0.02066</text>
<text x="2557.2" y="724.1" font-size="25.5" fill="#404040" textLength="101.5" lengthAdjust="spacing" stroke="#404040" stroke-width="0.2">01:42:41</text>
<path d="M2540,733.0 H2660 a4,4 0 0 1 4,4 V763.0 a4,4 0 0 1 -4,4 H2540 Z" fill="#f23645"/>
<text x="2557.2" y="758.5" font-size="25.5" fill="#ffffff" textLength="95.4" lengthAdjust="spacing" stroke="#ffffff" stroke-width="0.25">0.01940</text>
<path d="M2540,930.0 H2660 a4,4 0 0 1 4,4 V960.0 a4,4 0 0 1 -4,4 H2540 Z" fill="#f23645"/>
<text x="2557.2" y="955.5" font-size="25.5" fill="#ffffff" textLength="95.4" lengthAdjust="spacing" stroke="#ffffff" stroke-width="0.25">0.01375</text>
<path d="M2540,1057.0 H2660 a4,4 0 0 1 4,4 V1087.0 a4,4 0 0 1 -4,4 H2540 Z" fill="#f23645"/>
<text x="2557.2" y="1082.5" font-size="25.5" fill="#ffffff" textLength="95.4" lengthAdjust="spacing" stroke="#ffffff" stroke-width="0.25">0.01126</text>
</g>
<g id="currency"><rect x="2546.5" y="61.5" width="136" height="53" rx="9" ry="9" fill="#ffffff" stroke="#e9ebf0" stroke-width="1.2"/>
<text x="2564.6" y="96.4" font-size="24.5" fill="#000000" textLength="63.6" lengthAdjust="spacing" stroke="#000000" stroke-width="0.25">USDT</text>
</g>
<g id="time-axis">
<text x="53.2" y="1212.0" font-size="24.6" fill="#131722" font-weight="700" text-anchor="middle">Feb</text>
<text x="163.7" y="1212.0" font-size="24.6" fill="#131722" text-anchor="middle" stroke="#131722" stroke-width="0.25">5</text>
<text x="274.2" y="1212.0" font-size="24.6" fill="#131722" text-anchor="middle" stroke="#131722" stroke-width="0.25">9</text>
<text x="384.7" y="1212.0" font-size="24.6" fill="#131722" text-anchor="middle" stroke="#131722" stroke-width="0.25">13</text>
<text x="495.2" y="1212.0" font-size="24.6" fill="#131722" text-anchor="middle" stroke="#131722" stroke-width="0.25">17</text>
<text x="605.7" y="1212.0" font-size="24.6" fill="#131722" text-anchor="middle" stroke="#131722" stroke-width="0.25">21</text>
<text x="716.2" y="1212.0" font-size="24.6" fill="#131722" text-anchor="middle" stroke="#131722" stroke-width="0.25">25</text>
<text x="826.8" y="1212.0" font-size="24.6" fill="#131722" font-weight="700" text-anchor="middle">Mar</text>
<text x="937.3" y="1212.0" font-size="24.6" fill="#131722" text-anchor="middle" stroke="#131722" stroke-width="0.25">5</text>
<text x="1047.8" y="1212.0" font-size="24.6" fill="#131722" text-anchor="middle" stroke="#131722" stroke-width="0.25">9</text>
<text x="1158.3" y="1212.0" font-size="24.6" fill="#131722" text-anchor="middle" stroke="#131722" stroke-width="0.25">13</text>
<text x="1268.8" y="1212.0" font-size="24.6" fill="#131722" text-anchor="middle" stroke="#131722" stroke-width="0.25">17</text>
<text x="1379.3" y="1212.0" font-size="24.6" fill="#131722" text-anchor="middle" stroke="#131722" stroke-width="0.25">21</text>
<text x="1489.8" y="1212.0" font-size="24.6" fill="#131722" text-anchor="middle" stroke="#131722" stroke-width="0.25">25</text>
<text x="1683.2" y="1212.0" font-size="24.6" fill="#131722" font-weight="700" text-anchor="middle">Apr</text>
<text x="1793.7" y="1212.0" font-size="24.6" fill="#131722" text-anchor="middle" stroke="#131722" stroke-width="0.25">5</text>
<text x="1904.2" y="1212.0" font-size="24.6" fill="#131722" text-anchor="middle" stroke="#131722" stroke-width="0.25">9</text>
<text x="2014.7" y="1212.0" font-size="24.6" fill="#131722" text-anchor="middle" stroke="#131722" stroke-width="0.25">13</text>
<text x="2125.2" y="1212.0" font-size="24.6" fill="#131722" text-anchor="middle" stroke="#131722" stroke-width="0.25">17</text>
<text x="2235.7" y="1212.0" font-size="24.6" fill="#131722" text-anchor="middle" stroke="#131722" stroke-width="0.25">21</text>
<text x="2346.2" y="1212.0" font-size="24.6" fill="#131722" text-anchor="middle" stroke="#131722" stroke-width="0.25">25</text>
<text x="2512.0" y="1212.0" font-size="24.6" fill="#131722" font-weight="700" text-anchor="middle">May</text>
</g>
<g id="header">
<text y="39.8" font-size="24" fill="#dadada" stroke-width="0.3"><tspan x="20.6" textLength="287.1" lengthAdjust="spacing" stroke="#dadada">BeInCrypto1 published on</tspan> <tspan x="317.0" textLength="195.9" lengthAdjust="spacing" stroke="#dadada">TradingView.com,</tspan> <tspan x="523.2" textLength="151.1" lengthAdjust="spacing" stroke="#dadada">May 01, 2025</tspan> <tspan x="682.4" textLength="135.6" lengthAdjust="spacing" stroke="#dadada">11:17 UTC-3</tspan></text>
</g>
<g id="legend">
<text y="93.7" font-size="24" fill="#131722" stroke-width="0.25"><tspan x="36.3" textLength="178.4" lengthAdjust="spacing" stroke="#131722">TokenFi / Tether</tspan> <tspan x="223.3" textLength="56.7" lengthAdjust="spacing" stroke="#131722">· 4h ·</tspan> <tspan x="287.7" textLength="91.0" lengthAdjust="spacing" stroke="#131722">KUCOIN</tspan> <tspan x="394.5" textLength="111.5" lengthAdjust="spacing" stroke="#131722">O0.02065</tspan> <tspan x="522.0" textLength="110.6" lengthAdjust="spacing" stroke="#131722">H0.02082</tspan> <tspan x="648.0" textLength="108.0" lengthAdjust="spacing" stroke="#131722">L0.02038</tspan> <tspan x="770.6" textLength="111.4" lengthAdjust="spacing" stroke="#131722">C0.02066</tspan> <tspan x="897.0" textLength="110.3" lengthAdjust="spacing" stroke="#131722">+0.00003</tspan> <tspan x="1016.3" textLength="97.8" lengthAdjust="spacing" stroke="#131722">(+0.15%)</tspan> <tspan x="1130.0" textLength="82.5" lengthAdjust="spacing" stroke="#131722">Vol4.19</tspan> <tspan x="1217.7" textLength="18.4" lengthAdjust="spacing" stroke="#131722">M</tspan></text>
<text y="127.2" font-size="24" fill="#131722" stroke-width="0.25"><tspan x="36.6" textLength="49.5" lengthAdjust="spacing" fill="#131722" stroke="#131722">EMA</tspan> <tspan x="96.1" textLength="164.2" lengthAdjust="spacing" fill="#131722" stroke="#131722">20/50/100/200</tspan> <tspan x="277.0" textLength="89.4" lengthAdjust="spacing" fill="#ff0000" stroke="#ff0000">0.01983</tspan> <tspan x="382.5" textLength="85.9" lengthAdjust="spacing" fill="#ff8000" stroke="#ff8000">0.01801</tspan> <tspan x="484.3" textLength="89.6" lengthAdjust="spacing" fill="#00ffff" stroke="#00ffff">0.01646</tspan> <tspan x="590.0" textLength="87.2" lengthAdjust="spacing" fill="#0000ff" stroke="#0000ff">0.01577</tspan></text>
</g>
<g id="tv-logo" fill="#dcdcdc">
<path d="M19.8,1254.1 H35.3 V1273.4 H27.2 V1261.8 H19.8 Z"/>
<circle cx="42.1" cy="1257.9" r="4.1"/>
<path d="M50.2,1254.1 H59.2 L51,1273.4 H42.1 Z"/>
<text x="66.5" y="1274.9" font-size="26" fill="#dcdcdc" textLength="148.5" lengthAdjust="spacing" stroke="#dcdcdc" stroke-width="0.7">TradingView</text>
</g>
</svg></body></html>
